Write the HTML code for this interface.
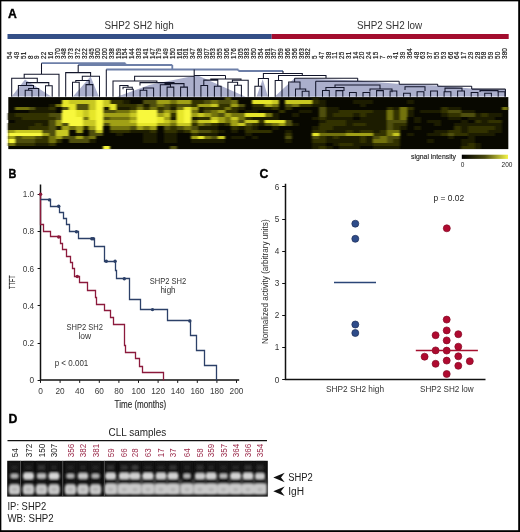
<!DOCTYPE html><html><head><meta charset="utf-8"><style>html,body{margin:0;padding:0;background:#fff;} svg{display:block;will-change:transform;} text{font-family:"Liberation Sans", sans-serif;}</style></head><body>
<svg width="520" height="532" viewBox="0 0 520 532">
<defs><filter id="bl" x="-5%" y="-5%" width="110%" height="110%"><feGaussianBlur stdDeviation="1.1 0.55"/></filter><filter id="bl2" x="-20%" y="-50%" width="140%" height="200%"><feGaussianBlur stdDeviation="0.9"/></filter><linearGradient id="gscale" x1="0" x2="1" y1="0" y2="0"><stop offset="0" stop-color="#000"/><stop offset="0.5" stop-color="#4a4a10"/><stop offset="1" stop-color="#f4f448"/></linearGradient></defs>
<rect x="0" y="0" width="520" height="532" fill="#000"/>
<rect x="1.35" y="1.35" width="516.85" height="528.85" fill="#fff"/>
<text x="8.0" y="17.7" font-size="12.2" fill="#000" text-anchor="start" font-weight="bold" stroke="#000" stroke-width="0.35">A</text>
<text x="104.5" y="29" font-size="10.6" fill="#333" text-anchor="start" font-weight="normal" textLength="69.2" lengthAdjust="spacingAndGlyphs" >SHP2 SH2 high</text>
<text x="357.0" y="29" font-size="10.6" fill="#333" text-anchor="start" font-weight="normal" textLength="65.2" lengthAdjust="spacingAndGlyphs" >SHP2 SH2 low</text>
<rect x="7.5" y="34" width="264.2" height="5" fill="#344f87"/>
<rect x="271.7" y="34" width="237" height="5" fill="#a30d2e"/>
<text transform="translate(12.30,58.9) rotate(-90)" font-size="6.5" fill="#1a1a1a" stroke="#1a1a1a" stroke-width="0.18" textLength="7.10" lengthAdjust="spacingAndGlyphs">54</text>
<text transform="translate(19.07,58.9) rotate(-90)" font-size="6.5" fill="#1a1a1a" stroke="#1a1a1a" stroke-width="0.18" textLength="7.10" lengthAdjust="spacingAndGlyphs">49</text>
<text transform="translate(25.85,58.9) rotate(-90)" font-size="6.5" fill="#1a1a1a" stroke="#1a1a1a" stroke-width="0.18" textLength="7.10" lengthAdjust="spacingAndGlyphs">51</text>
<text transform="translate(32.62,58.9) rotate(-90)" font-size="6.5" fill="#1a1a1a" stroke="#1a1a1a" stroke-width="0.18" textLength="3.55" lengthAdjust="spacingAndGlyphs">8</text>
<text transform="translate(39.39,58.9) rotate(-90)" font-size="6.5" fill="#1a1a1a" stroke="#1a1a1a" stroke-width="0.18" textLength="3.55" lengthAdjust="spacingAndGlyphs">9</text>
<text transform="translate(46.16,58.9) rotate(-90)" font-size="6.5" fill="#1a1a1a" stroke="#1a1a1a" stroke-width="0.18" textLength="7.10" lengthAdjust="spacingAndGlyphs">22</text>
<text transform="translate(52.94,58.9) rotate(-90)" font-size="6.5" fill="#1a1a1a" stroke="#1a1a1a" stroke-width="0.18" textLength="7.10" lengthAdjust="spacingAndGlyphs">16</text>
<text transform="translate(59.71,58.9) rotate(-90)" font-size="6.5" fill="#1a1a1a" stroke="#1a1a1a" stroke-width="0.18" textLength="10.65" lengthAdjust="spacingAndGlyphs">370</text>
<text transform="translate(66.48,58.9) rotate(-90)" font-size="6.5" fill="#1a1a1a" stroke="#1a1a1a" stroke-width="0.18" textLength="10.65" lengthAdjust="spacingAndGlyphs">348</text>
<text transform="translate(73.25,58.9) rotate(-90)" font-size="6.5" fill="#1a1a1a" stroke="#1a1a1a" stroke-width="0.18" textLength="10.65" lengthAdjust="spacingAndGlyphs">373</text>
<text transform="translate(80.03,58.9) rotate(-90)" font-size="6.5" fill="#1a1a1a" stroke="#1a1a1a" stroke-width="0.18" textLength="10.65" lengthAdjust="spacingAndGlyphs">372</text>
<text transform="translate(86.80,58.9) rotate(-90)" font-size="6.5" fill="#1a1a1a" stroke="#1a1a1a" stroke-width="0.18" textLength="10.65" lengthAdjust="spacingAndGlyphs">322</text>
<text transform="translate(93.57,58.9) rotate(-90)" font-size="6.5" fill="#1a1a1a" stroke="#1a1a1a" stroke-width="0.18" textLength="10.65" lengthAdjust="spacingAndGlyphs">345</text>
<text transform="translate(100.34,58.9) rotate(-90)" font-size="6.5" fill="#1a1a1a" stroke="#1a1a1a" stroke-width="0.18" textLength="10.65" lengthAdjust="spacingAndGlyphs">300</text>
<text transform="translate(107.12,58.9) rotate(-90)" font-size="6.5" fill="#1a1a1a" stroke="#1a1a1a" stroke-width="0.18" textLength="10.65" lengthAdjust="spacingAndGlyphs">200</text>
<text transform="translate(113.89,58.9) rotate(-90)" font-size="6.5" fill="#1a1a1a" stroke="#1a1a1a" stroke-width="0.18" textLength="10.65" lengthAdjust="spacingAndGlyphs">338</text>
<text transform="translate(120.66,58.9) rotate(-90)" font-size="6.5" fill="#1a1a1a" stroke="#1a1a1a" stroke-width="0.18" textLength="10.65" lengthAdjust="spacingAndGlyphs">159</text>
<text transform="translate(127.43,58.9) rotate(-90)" font-size="6.5" fill="#1a1a1a" stroke="#1a1a1a" stroke-width="0.18" textLength="10.65" lengthAdjust="spacingAndGlyphs">154</text>
<text transform="translate(134.21,58.9) rotate(-90)" font-size="6.5" fill="#1a1a1a" stroke="#1a1a1a" stroke-width="0.18" textLength="10.65" lengthAdjust="spacingAndGlyphs">144</text>
<text transform="translate(140.98,58.9) rotate(-90)" font-size="6.5" fill="#1a1a1a" stroke="#1a1a1a" stroke-width="0.18" textLength="10.65" lengthAdjust="spacingAndGlyphs">303</text>
<text transform="translate(147.75,58.9) rotate(-90)" font-size="6.5" fill="#1a1a1a" stroke="#1a1a1a" stroke-width="0.18" textLength="10.65" lengthAdjust="spacingAndGlyphs">141</text>
<text transform="translate(154.52,58.9) rotate(-90)" font-size="6.5" fill="#1a1a1a" stroke="#1a1a1a" stroke-width="0.18" textLength="10.65" lengthAdjust="spacingAndGlyphs">147</text>
<text transform="translate(161.30,58.9) rotate(-90)" font-size="6.5" fill="#1a1a1a" stroke="#1a1a1a" stroke-width="0.18" textLength="10.65" lengthAdjust="spacingAndGlyphs">179</text>
<text transform="translate(168.07,58.9) rotate(-90)" font-size="6.5" fill="#1a1a1a" stroke="#1a1a1a" stroke-width="0.18" textLength="10.65" lengthAdjust="spacingAndGlyphs">149</text>
<text transform="translate(174.84,58.9) rotate(-90)" font-size="6.5" fill="#1a1a1a" stroke="#1a1a1a" stroke-width="0.18" textLength="10.65" lengthAdjust="spacingAndGlyphs">150</text>
<text transform="translate(181.62,58.9) rotate(-90)" font-size="6.5" fill="#1a1a1a" stroke="#1a1a1a" stroke-width="0.18" textLength="10.65" lengthAdjust="spacingAndGlyphs">161</text>
<text transform="translate(188.39,58.9) rotate(-90)" font-size="6.5" fill="#1a1a1a" stroke="#1a1a1a" stroke-width="0.18" textLength="10.65" lengthAdjust="spacingAndGlyphs">301</text>
<text transform="translate(195.16,58.9) rotate(-90)" font-size="6.5" fill="#1a1a1a" stroke="#1a1a1a" stroke-width="0.18" textLength="10.65" lengthAdjust="spacingAndGlyphs">347</text>
<text transform="translate(201.93,58.9) rotate(-90)" font-size="6.5" fill="#1a1a1a" stroke="#1a1a1a" stroke-width="0.18" textLength="10.65" lengthAdjust="spacingAndGlyphs">308</text>
<text transform="translate(208.71,58.9) rotate(-90)" font-size="6.5" fill="#1a1a1a" stroke="#1a1a1a" stroke-width="0.18" textLength="10.65" lengthAdjust="spacingAndGlyphs">307</text>
<text transform="translate(215.48,58.9) rotate(-90)" font-size="6.5" fill="#1a1a1a" stroke="#1a1a1a" stroke-width="0.18" textLength="10.65" lengthAdjust="spacingAndGlyphs">353</text>
<text transform="translate(222.25,58.9) rotate(-90)" font-size="6.5" fill="#1a1a1a" stroke="#1a1a1a" stroke-width="0.18" textLength="10.65" lengthAdjust="spacingAndGlyphs">355</text>
<text transform="translate(229.02,58.9) rotate(-90)" font-size="6.5" fill="#1a1a1a" stroke="#1a1a1a" stroke-width="0.18" textLength="10.65" lengthAdjust="spacingAndGlyphs">306</text>
<text transform="translate(235.80,58.9) rotate(-90)" font-size="6.5" fill="#1a1a1a" stroke="#1a1a1a" stroke-width="0.18" textLength="10.65" lengthAdjust="spacingAndGlyphs">176</text>
<text transform="translate(242.57,58.9) rotate(-90)" font-size="6.5" fill="#1a1a1a" stroke="#1a1a1a" stroke-width="0.18" textLength="10.65" lengthAdjust="spacingAndGlyphs">305</text>
<text transform="translate(249.34,58.9) rotate(-90)" font-size="6.5" fill="#1a1a1a" stroke="#1a1a1a" stroke-width="0.18" textLength="10.65" lengthAdjust="spacingAndGlyphs">383</text>
<text transform="translate(256.11,58.9) rotate(-90)" font-size="6.5" fill="#1a1a1a" stroke="#1a1a1a" stroke-width="0.18" textLength="10.65" lengthAdjust="spacingAndGlyphs">350</text>
<text transform="translate(262.89,58.9) rotate(-90)" font-size="6.5" fill="#1a1a1a" stroke="#1a1a1a" stroke-width="0.18" textLength="10.65" lengthAdjust="spacingAndGlyphs">354</text>
<text transform="translate(269.66,58.9) rotate(-90)" font-size="6.5" fill="#1a1a1a" stroke="#1a1a1a" stroke-width="0.18" textLength="10.65" lengthAdjust="spacingAndGlyphs">381</text>
<text transform="translate(276.43,58.9) rotate(-90)" font-size="6.5" fill="#1a1a1a" stroke="#1a1a1a" stroke-width="0.18" textLength="10.65" lengthAdjust="spacingAndGlyphs">357</text>
<text transform="translate(283.20,58.9) rotate(-90)" font-size="6.5" fill="#1a1a1a" stroke="#1a1a1a" stroke-width="0.18" textLength="10.65" lengthAdjust="spacingAndGlyphs">359</text>
<text transform="translate(289.98,58.9) rotate(-90)" font-size="6.5" fill="#1a1a1a" stroke="#1a1a1a" stroke-width="0.18" textLength="10.65" lengthAdjust="spacingAndGlyphs">366</text>
<text transform="translate(296.75,58.9) rotate(-90)" font-size="6.5" fill="#1a1a1a" stroke="#1a1a1a" stroke-width="0.18" textLength="10.65" lengthAdjust="spacingAndGlyphs">356</text>
<text transform="translate(303.52,58.9) rotate(-90)" font-size="6.5" fill="#1a1a1a" stroke="#1a1a1a" stroke-width="0.18" textLength="10.65" lengthAdjust="spacingAndGlyphs">363</text>
<text transform="translate(310.29,58.9) rotate(-90)" font-size="6.5" fill="#1a1a1a" stroke="#1a1a1a" stroke-width="0.18" textLength="10.65" lengthAdjust="spacingAndGlyphs">382</text>
<text transform="translate(317.07,58.9) rotate(-90)" font-size="6.5" fill="#1a1a1a" stroke="#1a1a1a" stroke-width="0.18" textLength="3.55" lengthAdjust="spacingAndGlyphs">5</text>
<text transform="translate(323.84,58.9) rotate(-90)" font-size="6.5" fill="#1a1a1a" stroke="#1a1a1a" stroke-width="0.18" textLength="7.10" lengthAdjust="spacingAndGlyphs">47</text>
<text transform="translate(330.61,58.9) rotate(-90)" font-size="6.5" fill="#1a1a1a" stroke="#1a1a1a" stroke-width="0.18" textLength="7.10" lengthAdjust="spacingAndGlyphs">38</text>
<text transform="translate(337.38,58.9) rotate(-90)" font-size="6.5" fill="#1a1a1a" stroke="#1a1a1a" stroke-width="0.18" textLength="7.10" lengthAdjust="spacingAndGlyphs">11</text>
<text transform="translate(344.16,58.9) rotate(-90)" font-size="6.5" fill="#1a1a1a" stroke="#1a1a1a" stroke-width="0.18" textLength="7.10" lengthAdjust="spacingAndGlyphs">25</text>
<text transform="translate(350.93,58.9) rotate(-90)" font-size="6.5" fill="#1a1a1a" stroke="#1a1a1a" stroke-width="0.18" textLength="7.10" lengthAdjust="spacingAndGlyphs">31</text>
<text transform="translate(357.70,58.9) rotate(-90)" font-size="6.5" fill="#1a1a1a" stroke="#1a1a1a" stroke-width="0.18" textLength="7.10" lengthAdjust="spacingAndGlyphs">14</text>
<text transform="translate(364.48,58.9) rotate(-90)" font-size="6.5" fill="#1a1a1a" stroke="#1a1a1a" stroke-width="0.18" textLength="7.10" lengthAdjust="spacingAndGlyphs">20</text>
<text transform="translate(371.25,58.9) rotate(-90)" font-size="6.5" fill="#1a1a1a" stroke="#1a1a1a" stroke-width="0.18" textLength="7.10" lengthAdjust="spacingAndGlyphs">24</text>
<text transform="translate(378.02,58.9) rotate(-90)" font-size="6.5" fill="#1a1a1a" stroke="#1a1a1a" stroke-width="0.18" textLength="7.10" lengthAdjust="spacingAndGlyphs">15</text>
<text transform="translate(384.79,58.9) rotate(-90)" font-size="6.5" fill="#1a1a1a" stroke="#1a1a1a" stroke-width="0.18" textLength="3.55" lengthAdjust="spacingAndGlyphs">7</text>
<text transform="translate(391.57,58.9) rotate(-90)" font-size="6.5" fill="#1a1a1a" stroke="#1a1a1a" stroke-width="0.18" textLength="3.55" lengthAdjust="spacingAndGlyphs">3</text>
<text transform="translate(398.34,58.9) rotate(-90)" font-size="6.5" fill="#1a1a1a" stroke="#1a1a1a" stroke-width="0.18" textLength="7.10" lengthAdjust="spacingAndGlyphs">41</text>
<text transform="translate(405.11,58.9) rotate(-90)" font-size="6.5" fill="#1a1a1a" stroke="#1a1a1a" stroke-width="0.18" textLength="7.10" lengthAdjust="spacingAndGlyphs">39</text>
<text transform="translate(411.88,58.9) rotate(-90)" font-size="6.5" fill="#1a1a1a" stroke="#1a1a1a" stroke-width="0.18" textLength="10.65" lengthAdjust="spacingAndGlyphs">364</text>
<text transform="translate(418.66,58.9) rotate(-90)" font-size="6.5" fill="#1a1a1a" stroke="#1a1a1a" stroke-width="0.18" textLength="7.10" lengthAdjust="spacingAndGlyphs">48</text>
<text transform="translate(425.43,58.9) rotate(-90)" font-size="6.5" fill="#1a1a1a" stroke="#1a1a1a" stroke-width="0.18" textLength="7.10" lengthAdjust="spacingAndGlyphs">63</text>
<text transform="translate(432.20,58.9) rotate(-90)" font-size="6.5" fill="#1a1a1a" stroke="#1a1a1a" stroke-width="0.18" textLength="7.10" lengthAdjust="spacingAndGlyphs">37</text>
<text transform="translate(438.97,58.9) rotate(-90)" font-size="6.5" fill="#1a1a1a" stroke="#1a1a1a" stroke-width="0.18" textLength="7.10" lengthAdjust="spacingAndGlyphs">55</text>
<text transform="translate(445.75,58.9) rotate(-90)" font-size="6.5" fill="#1a1a1a" stroke="#1a1a1a" stroke-width="0.18" textLength="7.10" lengthAdjust="spacingAndGlyphs">53</text>
<text transform="translate(452.52,58.9) rotate(-90)" font-size="6.5" fill="#1a1a1a" stroke="#1a1a1a" stroke-width="0.18" textLength="7.10" lengthAdjust="spacingAndGlyphs">66</text>
<text transform="translate(459.29,58.9) rotate(-90)" font-size="6.5" fill="#1a1a1a" stroke="#1a1a1a" stroke-width="0.18" textLength="7.10" lengthAdjust="spacingAndGlyphs">64</text>
<text transform="translate(466.06,58.9) rotate(-90)" font-size="6.5" fill="#1a1a1a" stroke="#1a1a1a" stroke-width="0.18" textLength="7.10" lengthAdjust="spacingAndGlyphs">17</text>
<text transform="translate(472.84,58.9) rotate(-90)" font-size="6.5" fill="#1a1a1a" stroke="#1a1a1a" stroke-width="0.18" textLength="7.10" lengthAdjust="spacingAndGlyphs">29</text>
<text transform="translate(479.61,58.9) rotate(-90)" font-size="6.5" fill="#1a1a1a" stroke="#1a1a1a" stroke-width="0.18" textLength="7.10" lengthAdjust="spacingAndGlyphs">28</text>
<text transform="translate(486.38,58.9) rotate(-90)" font-size="6.5" fill="#1a1a1a" stroke="#1a1a1a" stroke-width="0.18" textLength="7.10" lengthAdjust="spacingAndGlyphs">58</text>
<text transform="translate(493.15,58.9) rotate(-90)" font-size="6.5" fill="#1a1a1a" stroke="#1a1a1a" stroke-width="0.18" textLength="7.10" lengthAdjust="spacingAndGlyphs">59</text>
<text transform="translate(499.93,58.9) rotate(-90)" font-size="6.5" fill="#1a1a1a" stroke="#1a1a1a" stroke-width="0.18" textLength="7.10" lengthAdjust="spacingAndGlyphs">50</text>
<text transform="translate(506.70,58.9) rotate(-90)" font-size="6.5" fill="#1a1a1a" stroke="#1a1a1a" stroke-width="0.18" textLength="10.65" lengthAdjust="spacingAndGlyphs">380</text>
<polygon points="11.7,96.5 25,79.5 51.2,96.5" fill="#abafcc"/>
<polygon points="73,96.5 90.6,76.5 98.8,96.5" fill="#abafcc"/>
<polygon points="117,96.8 150,84.8 194.5,75.8 199,76.0 245.5,96.8" fill="#abafcc"/>
<polygon points="256.6,96.5 262.7,79.3 267.9,96.5" fill="#abafcc"/>
<polygon points="274.5,96.8 294.5,78.2 357.5,80.5 400,84 437,85.5 471,88.5 506,90 506,96.5" fill="#abafcc"/>
<path d="M41.5 63.2H125.4M125.4 63.2V65.0M78.2 65.0H172.3M172.3 65.0V69.5M106.3 69.5H238.4M238.4 69.5V71.0M238.4 71.0H283.0" stroke="#6d7fa8" stroke-width="1.8" fill="none"/>
<path d="M41.5 63.2V74.2M78.2 65.0V72.6M24.2 78.3V74.2H59.0V96.8M11.7 96.8V78.3H37.3V82.6M26.5 85.4V82.6H48.8V85.7M45.5 96.8V85.7H52.2V96.8M18.4 96.8V85.4H33.5V88.5M28.6 90.2V88.5H38.7V96.8M25.2 96.8V90.2H32.0V96.8M65.7 96.8V72.6H90.6V76.2M82.3 80.4V76.2H99.5V96.8M75.8 82.3V80.4H89.2V84.6M72.5 96.8V82.3H79.2V96.8M86.0 96.8V84.6H92.8V96.8M106.3 69.5V96.8M134.6 81.0V76.3H194.2V76.3M194.2 69.5V96.8M113.0 96.8V81.0H156.9V82.6M140.0 85.4V82.6H174.0V83.6M119.8 96.8V85.4H128.0V87.2M126.5 96.8V89.3H133.3V96.8M123.0 89.3V87.2H132.3V89.8M140.1 96.8V90.3H146.8V96.8M143.4 90.3V88.0H153.6V96.8M160.3 96.8V84.8H170.5V87.1M167.1 96.8V87.1H173.8V96.8M180.6 96.8V87.1H187.4V96.8M165.0 84.8V83.6H184.0V87.1M210.8 80.1V78.9H241.0V80.3M232.4 82.3V80.3H248.2V96.8M227.9 96.8V82.3H237.6V85.2M234.7 96.8V85.2H241.4V96.8M200.9 96.8V85.4H207.6V96.8M203.8 85.2V80.1H217.8V86.1M214.4 96.8V86.2H221.1V96.8M225.5 75.5V78.9M194.2 75.5H225.5M258.4 86.2V78.4H268.4V96.8M254.9 96.8V86.2H261.7V96.8M263.4 78.4V73.4H302.3V75.7M283.0 71.0V73.4M278.5 80.5V75.5H326.0V78.2M275.2 96.8V80.5H282.0V96.8M294.6 78.2H357.7M294.6 78.2V82.0M357.7 78.2V81.2M288.7 96.8V82.0H300.0V89.0M295.5 96.8V89.0H305.7V91.2M302.2 96.8V91.2H309.0V96.8M315.7 81.2H399.2M315.7 81.2V96.8M399.2 81.2V84.3M399.2 84.3H437.7M437.7 84.3V86.2M437.7 86.2H471.7M471.7 86.2V89.1M471.7 89.1H505.4M505.4 89.1V96.8M335.0 87.4V85.0H380.0V89.0M325.9 90.4V87.4H344.0V91.0M322.5 96.8V90.4H329.3V96.8M370.0 91.5V89.0H392.0V92.2M405.0 90.0V86.8H425.0V91.0M445.0 91.5V88.1H462.0V90.8M480.0 92.0V90.6H498.0V92.4M336.0 96.8V90.6H342.8V96.8M349.5 96.8V92.5H356.3V96.8M363.0 96.8V92.5H369.8V96.8M376.6 96.8V90.6H383.3V96.8M390.1 96.8V91.0H396.8V96.8M403.6 96.8V93.2H410.3V96.8M417.1 96.8V91.8H423.9V96.8M430.6 96.8V91.0H437.4V96.8M444.1 96.8V91.8H450.9V96.8M457.6 96.8V91.0H464.4V96.8M471.2 96.8V92.5H477.9V96.8M484.7 96.8V93.2H491.4V96.8M498.2 96.8V91.8H504.9V96.8" stroke="#12152a" stroke-width="1.05" fill="none"/>
<rect x="8.3" y="97.1" width="500.02" height="52.00" fill="#080800"/>
<g filter="url(#bl)" shape-rendering="crispEdges">
<rect x="8.30" y="113.35" width="6.81" height="3.30" fill="#1c1c02"/>
<rect x="8.30" y="116.60" width="6.81" height="3.30" fill="#1c1c02"/>
<rect x="8.30" y="123.10" width="6.81" height="3.30" fill="#1c1c02"/>
<rect x="8.30" y="126.35" width="6.81" height="3.30" fill="#1c1c02"/>
<rect x="8.30" y="129.60" width="6.81" height="3.30" fill="#a0a018"/>
<rect x="8.30" y="132.85" width="6.81" height="3.30" fill="#f8f83c"/>
<rect x="8.30" y="136.10" width="6.81" height="3.30" fill="#a0a018"/>
<rect x="8.30" y="139.35" width="6.81" height="3.30" fill="#f8f83c"/>
<rect x="8.30" y="142.60" width="6.81" height="3.30" fill="#737310"/>
<rect x="15.06" y="106.85" width="6.81" height="3.30" fill="#737310"/>
<rect x="15.06" y="113.35" width="6.81" height="3.30" fill="#303006"/>
<rect x="15.06" y="116.60" width="6.81" height="3.30" fill="#1c1c02"/>
<rect x="15.06" y="119.85" width="6.81" height="3.30" fill="#1c1c02"/>
<rect x="15.06" y="123.10" width="6.81" height="3.30" fill="#1c1c02"/>
<rect x="15.06" y="126.35" width="6.81" height="3.30" fill="#1c1c02"/>
<rect x="15.06" y="129.60" width="6.81" height="3.30" fill="#c8c822"/>
<rect x="15.06" y="132.85" width="6.81" height="3.30" fill="#f8f83c"/>
<rect x="15.06" y="136.10" width="6.81" height="3.30" fill="#50500a"/>
<rect x="15.06" y="139.35" width="6.81" height="3.30" fill="#50500a"/>
<rect x="15.06" y="142.60" width="6.81" height="3.30" fill="#303006"/>
<rect x="21.81" y="106.85" width="6.81" height="3.30" fill="#737310"/>
<rect x="21.81" y="113.35" width="6.81" height="3.30" fill="#303006"/>
<rect x="21.81" y="116.60" width="6.81" height="3.30" fill="#303006"/>
<rect x="21.81" y="119.85" width="6.81" height="3.30" fill="#1c1c02"/>
<rect x="21.81" y="123.10" width="6.81" height="3.30" fill="#1c1c02"/>
<rect x="21.81" y="126.35" width="6.81" height="3.30" fill="#1c1c02"/>
<rect x="21.81" y="129.60" width="6.81" height="3.30" fill="#c8c822"/>
<rect x="21.81" y="132.85" width="6.81" height="3.30" fill="#f8f83c"/>
<rect x="21.81" y="136.10" width="6.81" height="3.30" fill="#737310"/>
<rect x="21.81" y="139.35" width="6.81" height="3.30" fill="#50500a"/>
<rect x="21.81" y="142.60" width="6.81" height="3.30" fill="#303006"/>
<rect x="28.57" y="106.85" width="6.81" height="3.30" fill="#50500a"/>
<rect x="28.57" y="110.10" width="6.81" height="3.30" fill="#1c1c02"/>
<rect x="28.57" y="113.35" width="6.81" height="3.30" fill="#303006"/>
<rect x="28.57" y="116.60" width="6.81" height="3.30" fill="#303006"/>
<rect x="28.57" y="119.85" width="6.81" height="3.30" fill="#1c1c02"/>
<rect x="28.57" y="123.10" width="6.81" height="3.30" fill="#1c1c02"/>
<rect x="28.57" y="126.35" width="6.81" height="3.30" fill="#303006"/>
<rect x="28.57" y="129.60" width="6.81" height="3.30" fill="#c8c822"/>
<rect x="28.57" y="132.85" width="6.81" height="3.30" fill="#f8f83c"/>
<rect x="28.57" y="136.10" width="6.81" height="3.30" fill="#737310"/>
<rect x="28.57" y="139.35" width="6.81" height="3.30" fill="#50500a"/>
<rect x="28.57" y="142.60" width="6.81" height="3.30" fill="#303006"/>
<rect x="35.33" y="106.85" width="6.81" height="3.30" fill="#1c1c02"/>
<rect x="35.33" y="110.10" width="6.81" height="3.30" fill="#1c1c02"/>
<rect x="35.33" y="113.35" width="6.81" height="3.30" fill="#303006"/>
<rect x="35.33" y="116.60" width="6.81" height="3.30" fill="#303006"/>
<rect x="35.33" y="119.85" width="6.81" height="3.30" fill="#1c1c02"/>
<rect x="35.33" y="123.10" width="6.81" height="3.30" fill="#303006"/>
<rect x="35.33" y="126.35" width="6.81" height="3.30" fill="#303006"/>
<rect x="35.33" y="129.60" width="6.81" height="3.30" fill="#c8c822"/>
<rect x="35.33" y="132.85" width="6.81" height="3.30" fill="#f8f83c"/>
<rect x="35.33" y="136.10" width="6.81" height="3.30" fill="#50500a"/>
<rect x="35.33" y="139.35" width="6.81" height="3.30" fill="#303006"/>
<rect x="35.33" y="142.60" width="6.81" height="3.30" fill="#1c1c02"/>
<rect x="42.08" y="106.85" width="6.81" height="3.30" fill="#1c1c02"/>
<rect x="42.08" y="110.10" width="6.81" height="3.30" fill="#1c1c02"/>
<rect x="42.08" y="113.35" width="6.81" height="3.30" fill="#303006"/>
<rect x="42.08" y="116.60" width="6.81" height="3.30" fill="#303006"/>
<rect x="42.08" y="119.85" width="6.81" height="3.30" fill="#1c1c02"/>
<rect x="42.08" y="123.10" width="6.81" height="3.30" fill="#1c1c02"/>
<rect x="42.08" y="126.35" width="6.81" height="3.30" fill="#303006"/>
<rect x="42.08" y="129.60" width="6.81" height="3.30" fill="#50500a"/>
<rect x="42.08" y="132.85" width="6.81" height="3.30" fill="#a0a018"/>
<rect x="42.08" y="136.10" width="6.81" height="3.30" fill="#303006"/>
<rect x="42.08" y="139.35" width="6.81" height="3.30" fill="#303006"/>
<rect x="42.08" y="142.60" width="6.81" height="3.30" fill="#1c1c02"/>
<rect x="48.84" y="103.60" width="6.81" height="3.30" fill="#1c1c02"/>
<rect x="48.84" y="106.85" width="6.81" height="3.30" fill="#303006"/>
<rect x="48.84" y="110.10" width="6.81" height="3.30" fill="#1c1c02"/>
<rect x="48.84" y="113.35" width="6.81" height="3.30" fill="#50500a"/>
<rect x="48.84" y="116.60" width="6.81" height="3.30" fill="#303006"/>
<rect x="48.84" y="119.85" width="6.81" height="3.30" fill="#50500a"/>
<rect x="48.84" y="123.10" width="6.81" height="3.30" fill="#50500a"/>
<rect x="48.84" y="126.35" width="6.81" height="3.30" fill="#50500a"/>
<rect x="48.84" y="129.60" width="6.81" height="3.30" fill="#50500a"/>
<rect x="48.84" y="132.85" width="6.81" height="3.30" fill="#50500a"/>
<rect x="48.84" y="136.10" width="6.81" height="3.30" fill="#737310"/>
<rect x="48.84" y="139.35" width="6.81" height="3.30" fill="#737310"/>
<rect x="48.84" y="142.60" width="6.81" height="3.30" fill="#303006"/>
<rect x="55.60" y="103.60" width="6.81" height="3.30" fill="#737310"/>
<rect x="55.60" y="113.35" width="6.81" height="3.30" fill="#50500a"/>
<rect x="55.60" y="116.60" width="6.81" height="3.30" fill="#50500a"/>
<rect x="55.60" y="119.85" width="6.81" height="3.30" fill="#a0a018"/>
<rect x="55.60" y="123.10" width="6.81" height="3.30" fill="#a0a018"/>
<rect x="55.60" y="126.35" width="6.81" height="3.30" fill="#1c1c02"/>
<rect x="55.60" y="129.60" width="6.81" height="3.30" fill="#c8c822"/>
<rect x="55.60" y="132.85" width="6.81" height="3.30" fill="#c8c822"/>
<rect x="55.60" y="136.10" width="6.81" height="3.30" fill="#a0a018"/>
<rect x="55.60" y="139.35" width="6.81" height="3.30" fill="#303006"/>
<rect x="62.36" y="100.35" width="6.81" height="3.30" fill="#e6e62c"/>
<rect x="62.36" y="103.60" width="6.81" height="3.30" fill="#e6e62c"/>
<rect x="62.36" y="106.85" width="6.81" height="3.30" fill="#50500a"/>
<rect x="62.36" y="110.10" width="6.81" height="3.30" fill="#f8f83c"/>
<rect x="62.36" y="113.35" width="6.81" height="3.30" fill="#f8f83c"/>
<rect x="62.36" y="116.60" width="6.81" height="3.30" fill="#f8f83c"/>
<rect x="62.36" y="119.85" width="6.81" height="3.30" fill="#f8f83c"/>
<rect x="62.36" y="123.10" width="6.81" height="3.30" fill="#50500a"/>
<rect x="62.36" y="126.35" width="6.81" height="3.30" fill="#a0a018"/>
<rect x="62.36" y="129.60" width="6.81" height="3.30" fill="#c8c822"/>
<rect x="62.36" y="132.85" width="6.81" height="3.30" fill="#c8c822"/>
<rect x="62.36" y="136.10" width="6.81" height="3.30" fill="#50500a"/>
<rect x="69.11" y="100.35" width="6.81" height="3.30" fill="#c8c822"/>
<rect x="69.11" y="103.60" width="6.81" height="3.30" fill="#e6e62c"/>
<rect x="69.11" y="106.85" width="6.81" height="3.30" fill="#e6e62c"/>
<rect x="69.11" y="110.10" width="6.81" height="3.30" fill="#f8f83c"/>
<rect x="69.11" y="113.35" width="6.81" height="3.30" fill="#f8f83c"/>
<rect x="69.11" y="116.60" width="6.81" height="3.30" fill="#f8f83c"/>
<rect x="69.11" y="119.85" width="6.81" height="3.30" fill="#f8f83c"/>
<rect x="69.11" y="123.10" width="6.81" height="3.30" fill="#f8f83c"/>
<rect x="69.11" y="126.35" width="6.81" height="3.30" fill="#737310"/>
<rect x="69.11" y="136.10" width="6.81" height="3.30" fill="#50500a"/>
<rect x="69.11" y="139.35" width="6.81" height="3.30" fill="#50500a"/>
<rect x="75.87" y="100.35" width="6.81" height="3.30" fill="#c8c822"/>
<rect x="75.87" y="103.60" width="6.81" height="3.30" fill="#50500a"/>
<rect x="75.87" y="106.85" width="6.81" height="3.30" fill="#50500a"/>
<rect x="75.87" y="110.10" width="6.81" height="3.30" fill="#e6e62c"/>
<rect x="75.87" y="113.35" width="6.81" height="3.30" fill="#e6e62c"/>
<rect x="75.87" y="116.60" width="6.81" height="3.30" fill="#f8f83c"/>
<rect x="75.87" y="119.85" width="6.81" height="3.30" fill="#f8f83c"/>
<rect x="75.87" y="123.10" width="6.81" height="3.30" fill="#f8f83c"/>
<rect x="75.87" y="126.35" width="6.81" height="3.30" fill="#a0a018"/>
<rect x="75.87" y="129.60" width="6.81" height="3.30" fill="#a0a018"/>
<rect x="75.87" y="132.85" width="6.81" height="3.30" fill="#1c1c02"/>
<rect x="75.87" y="136.10" width="6.81" height="3.30" fill="#a0a018"/>
<rect x="75.87" y="139.35" width="6.81" height="3.30" fill="#50500a"/>
<rect x="82.63" y="100.35" width="6.81" height="3.30" fill="#c8c822"/>
<rect x="82.63" y="103.60" width="6.81" height="3.30" fill="#50500a"/>
<rect x="82.63" y="106.85" width="6.81" height="3.30" fill="#50500a"/>
<rect x="82.63" y="110.10" width="6.81" height="3.30" fill="#c8c822"/>
<rect x="82.63" y="113.35" width="6.81" height="3.30" fill="#c8c822"/>
<rect x="82.63" y="116.60" width="6.81" height="3.30" fill="#737310"/>
<rect x="82.63" y="119.85" width="6.81" height="3.30" fill="#c8c822"/>
<rect x="82.63" y="123.10" width="6.81" height="3.30" fill="#c8c822"/>
<rect x="82.63" y="126.35" width="6.81" height="3.30" fill="#303006"/>
<rect x="82.63" y="136.10" width="6.81" height="3.30" fill="#50500a"/>
<rect x="82.63" y="139.35" width="6.81" height="3.30" fill="#50500a"/>
<rect x="89.38" y="100.35" width="6.81" height="3.30" fill="#c8c822"/>
<rect x="89.38" y="103.60" width="6.81" height="3.30" fill="#c8c822"/>
<rect x="89.38" y="106.85" width="6.81" height="3.30" fill="#c8c822"/>
<rect x="89.38" y="110.10" width="6.81" height="3.30" fill="#e6e62c"/>
<rect x="89.38" y="113.35" width="6.81" height="3.30" fill="#e6e62c"/>
<rect x="89.38" y="116.60" width="6.81" height="3.30" fill="#e6e62c"/>
<rect x="89.38" y="119.85" width="6.81" height="3.30" fill="#c8c822"/>
<rect x="89.38" y="123.10" width="6.81" height="3.30" fill="#c8c822"/>
<rect x="89.38" y="126.35" width="6.81" height="3.30" fill="#a0a018"/>
<rect x="89.38" y="129.60" width="6.81" height="3.30" fill="#50500a"/>
<rect x="89.38" y="132.85" width="6.81" height="3.30" fill="#50500a"/>
<rect x="89.38" y="136.10" width="6.81" height="3.30" fill="#737310"/>
<rect x="89.38" y="139.35" width="6.81" height="3.30" fill="#1c1c02"/>
<rect x="96.14" y="100.35" width="6.81" height="3.30" fill="#f8f83c"/>
<rect x="96.14" y="103.60" width="6.81" height="3.30" fill="#f8f83c"/>
<rect x="96.14" y="106.85" width="6.81" height="3.30" fill="#f8f83c"/>
<rect x="96.14" y="110.10" width="6.81" height="3.30" fill="#f8f83c"/>
<rect x="96.14" y="113.35" width="6.81" height="3.30" fill="#f8f83c"/>
<rect x="96.14" y="116.60" width="6.81" height="3.30" fill="#f8f83c"/>
<rect x="96.14" y="119.85" width="6.81" height="3.30" fill="#f8f83c"/>
<rect x="96.14" y="123.10" width="6.81" height="3.30" fill="#f8f83c"/>
<rect x="96.14" y="126.35" width="6.81" height="3.30" fill="#f8f83c"/>
<rect x="96.14" y="129.60" width="6.81" height="3.30" fill="#c8c822"/>
<rect x="96.14" y="132.85" width="6.81" height="3.30" fill="#50500a"/>
<rect x="102.90" y="100.35" width="6.81" height="3.30" fill="#c8c822"/>
<rect x="102.90" y="103.60" width="6.81" height="3.30" fill="#c8c822"/>
<rect x="102.90" y="106.85" width="6.81" height="3.30" fill="#1c1c02"/>
<rect x="102.90" y="110.10" width="6.81" height="3.30" fill="#50500a"/>
<rect x="102.90" y="113.35" width="6.81" height="3.30" fill="#a0a018"/>
<rect x="102.90" y="116.60" width="6.81" height="3.30" fill="#50500a"/>
<rect x="102.90" y="119.85" width="6.81" height="3.30" fill="#a0a018"/>
<rect x="102.90" y="123.10" width="6.81" height="3.30" fill="#50500a"/>
<rect x="102.90" y="145.85" width="6.81" height="3.30" fill="#f8f83c"/>
<rect x="109.65" y="100.35" width="6.81" height="3.30" fill="#303006"/>
<rect x="109.65" y="103.60" width="6.81" height="3.30" fill="#e6e62c"/>
<rect x="109.65" y="106.85" width="6.81" height="3.30" fill="#e6e62c"/>
<rect x="109.65" y="110.10" width="6.81" height="3.30" fill="#50500a"/>
<rect x="109.65" y="113.35" width="6.81" height="3.30" fill="#a0a018"/>
<rect x="109.65" y="116.60" width="6.81" height="3.30" fill="#737310"/>
<rect x="109.65" y="119.85" width="6.81" height="3.30" fill="#a0a018"/>
<rect x="109.65" y="123.10" width="6.81" height="3.30" fill="#a0a018"/>
<rect x="109.65" y="126.35" width="6.81" height="3.30" fill="#737310"/>
<rect x="109.65" y="129.60" width="6.81" height="3.30" fill="#303006"/>
<rect x="116.41" y="100.35" width="6.81" height="3.30" fill="#303006"/>
<rect x="116.41" y="103.60" width="6.81" height="3.30" fill="#303006"/>
<rect x="116.41" y="106.85" width="6.81" height="3.30" fill="#1c1c02"/>
<rect x="116.41" y="110.10" width="6.81" height="3.30" fill="#737310"/>
<rect x="116.41" y="113.35" width="6.81" height="3.30" fill="#a0a018"/>
<rect x="116.41" y="116.60" width="6.81" height="3.30" fill="#737310"/>
<rect x="116.41" y="119.85" width="6.81" height="3.30" fill="#a0a018"/>
<rect x="116.41" y="123.10" width="6.81" height="3.30" fill="#a0a018"/>
<rect x="116.41" y="126.35" width="6.81" height="3.30" fill="#737310"/>
<rect x="116.41" y="129.60" width="6.81" height="3.30" fill="#303006"/>
<rect x="116.41" y="132.85" width="6.81" height="3.30" fill="#1c1c02"/>
<rect x="123.17" y="100.35" width="6.81" height="3.30" fill="#1c1c02"/>
<rect x="123.17" y="103.60" width="6.81" height="3.30" fill="#303006"/>
<rect x="123.17" y="106.85" width="6.81" height="3.30" fill="#1c1c02"/>
<rect x="123.17" y="110.10" width="6.81" height="3.30" fill="#737310"/>
<rect x="123.17" y="113.35" width="6.81" height="3.30" fill="#a0a018"/>
<rect x="123.17" y="116.60" width="6.81" height="3.30" fill="#737310"/>
<rect x="123.17" y="119.85" width="6.81" height="3.30" fill="#a0a018"/>
<rect x="123.17" y="123.10" width="6.81" height="3.30" fill="#a0a018"/>
<rect x="123.17" y="126.35" width="6.81" height="3.30" fill="#737310"/>
<rect x="123.17" y="129.60" width="6.81" height="3.30" fill="#303006"/>
<rect x="129.93" y="103.60" width="6.81" height="3.30" fill="#303006"/>
<rect x="129.93" y="106.85" width="6.81" height="3.30" fill="#303006"/>
<rect x="129.93" y="110.10" width="6.81" height="3.30" fill="#a0a018"/>
<rect x="129.93" y="113.35" width="6.81" height="3.30" fill="#c8c822"/>
<rect x="129.93" y="116.60" width="6.81" height="3.30" fill="#a0a018"/>
<rect x="129.93" y="119.85" width="6.81" height="3.30" fill="#c8c822"/>
<rect x="129.93" y="123.10" width="6.81" height="3.30" fill="#a0a018"/>
<rect x="129.93" y="126.35" width="6.81" height="3.30" fill="#50500a"/>
<rect x="129.93" y="129.60" width="6.81" height="3.30" fill="#1c1c02"/>
<rect x="136.68" y="103.60" width="6.81" height="3.30" fill="#50500a"/>
<rect x="136.68" y="106.85" width="6.81" height="3.30" fill="#737310"/>
<rect x="136.68" y="110.10" width="6.81" height="3.30" fill="#f8f83c"/>
<rect x="136.68" y="113.35" width="6.81" height="3.30" fill="#f8f83c"/>
<rect x="136.68" y="116.60" width="6.81" height="3.30" fill="#f8f83c"/>
<rect x="136.68" y="119.85" width="6.81" height="3.30" fill="#f8f83c"/>
<rect x="136.68" y="123.10" width="6.81" height="3.30" fill="#e6e62c"/>
<rect x="136.68" y="126.35" width="6.81" height="3.30" fill="#a0a018"/>
<rect x="136.68" y="129.60" width="6.81" height="3.30" fill="#1c1c02"/>
<rect x="143.44" y="100.35" width="6.81" height="3.30" fill="#50500a"/>
<rect x="143.44" y="103.60" width="6.81" height="3.30" fill="#1c1c02"/>
<rect x="143.44" y="106.85" width="6.81" height="3.30" fill="#303006"/>
<rect x="143.44" y="110.10" width="6.81" height="3.30" fill="#f8f83c"/>
<rect x="143.44" y="113.35" width="6.81" height="3.30" fill="#f8f83c"/>
<rect x="143.44" y="116.60" width="6.81" height="3.30" fill="#f8f83c"/>
<rect x="143.44" y="119.85" width="6.81" height="3.30" fill="#f8f83c"/>
<rect x="143.44" y="123.10" width="6.81" height="3.30" fill="#e6e62c"/>
<rect x="143.44" y="126.35" width="6.81" height="3.30" fill="#737310"/>
<rect x="143.44" y="129.60" width="6.81" height="3.30" fill="#1c1c02"/>
<rect x="143.44" y="132.85" width="6.81" height="3.30" fill="#1c1c02"/>
<rect x="143.44" y="136.10" width="6.81" height="3.30" fill="#1c1c02"/>
<rect x="143.44" y="139.35" width="6.81" height="3.30" fill="#1c1c02"/>
<rect x="150.20" y="100.35" width="6.81" height="3.30" fill="#50500a"/>
<rect x="150.20" y="103.60" width="6.81" height="3.30" fill="#50500a"/>
<rect x="150.20" y="106.85" width="6.81" height="3.30" fill="#737310"/>
<rect x="150.20" y="110.10" width="6.81" height="3.30" fill="#f8f83c"/>
<rect x="150.20" y="113.35" width="6.81" height="3.30" fill="#f8f83c"/>
<rect x="150.20" y="116.60" width="6.81" height="3.30" fill="#f8f83c"/>
<rect x="150.20" y="119.85" width="6.81" height="3.30" fill="#f8f83c"/>
<rect x="150.20" y="123.10" width="6.81" height="3.30" fill="#e6e62c"/>
<rect x="150.20" y="126.35" width="6.81" height="3.30" fill="#a0a018"/>
<rect x="150.20" y="129.60" width="6.81" height="3.30" fill="#303006"/>
<rect x="150.20" y="132.85" width="6.81" height="3.30" fill="#1c1c02"/>
<rect x="150.20" y="136.10" width="6.81" height="3.30" fill="#1c1c02"/>
<rect x="150.20" y="139.35" width="6.81" height="3.30" fill="#1c1c02"/>
<rect x="156.95" y="100.35" width="6.81" height="3.30" fill="#a0a018"/>
<rect x="156.95" y="103.60" width="6.81" height="3.30" fill="#737310"/>
<rect x="156.95" y="106.85" width="6.81" height="3.30" fill="#303006"/>
<rect x="156.95" y="110.10" width="6.81" height="3.30" fill="#50500a"/>
<rect x="156.95" y="113.35" width="6.81" height="3.30" fill="#a0a018"/>
<rect x="156.95" y="116.60" width="6.81" height="3.30" fill="#e6e62c"/>
<rect x="156.95" y="119.85" width="6.81" height="3.30" fill="#e6e62c"/>
<rect x="156.95" y="123.10" width="6.81" height="3.30" fill="#a0a018"/>
<rect x="163.71" y="100.35" width="6.81" height="3.30" fill="#a0a018"/>
<rect x="163.71" y="103.60" width="6.81" height="3.30" fill="#50500a"/>
<rect x="163.71" y="106.85" width="6.81" height="3.30" fill="#50500a"/>
<rect x="163.71" y="110.10" width="6.81" height="3.30" fill="#a0a018"/>
<rect x="163.71" y="113.35" width="6.81" height="3.30" fill="#c8c822"/>
<rect x="163.71" y="116.60" width="6.81" height="3.30" fill="#a0a018"/>
<rect x="163.71" y="119.85" width="6.81" height="3.30" fill="#c8c822"/>
<rect x="163.71" y="123.10" width="6.81" height="3.30" fill="#a0a018"/>
<rect x="163.71" y="126.35" width="6.81" height="3.30" fill="#50500a"/>
<rect x="163.71" y="129.60" width="6.81" height="3.30" fill="#303006"/>
<rect x="163.71" y="132.85" width="6.81" height="3.30" fill="#1c1c02"/>
<rect x="163.71" y="136.10" width="6.81" height="3.30" fill="#1c1c02"/>
<rect x="163.71" y="139.35" width="6.81" height="3.30" fill="#1c1c02"/>
<rect x="170.47" y="100.35" width="6.81" height="3.30" fill="#737310"/>
<rect x="170.47" y="103.60" width="6.81" height="3.30" fill="#303006"/>
<rect x="170.47" y="106.85" width="6.81" height="3.30" fill="#1c1c02"/>
<rect x="170.47" y="110.10" width="6.81" height="3.30" fill="#737310"/>
<rect x="170.47" y="113.35" width="6.81" height="3.30" fill="#303006"/>
<rect x="170.47" y="116.60" width="6.81" height="3.30" fill="#1c1c02"/>
<rect x="170.47" y="119.85" width="6.81" height="3.30" fill="#a0a018"/>
<rect x="170.47" y="123.10" width="6.81" height="3.30" fill="#737310"/>
<rect x="170.47" y="126.35" width="6.81" height="3.30" fill="#303006"/>
<rect x="170.47" y="129.60" width="6.81" height="3.30" fill="#303006"/>
<rect x="170.47" y="132.85" width="6.81" height="3.30" fill="#1c1c02"/>
<rect x="170.47" y="136.10" width="6.81" height="3.30" fill="#1c1c02"/>
<rect x="170.47" y="139.35" width="6.81" height="3.30" fill="#1c1c02"/>
<rect x="170.47" y="145.85" width="6.81" height="3.30" fill="#50500a"/>
<rect x="177.22" y="100.35" width="6.81" height="3.30" fill="#a0a018"/>
<rect x="177.22" y="103.60" width="6.81" height="3.30" fill="#50500a"/>
<rect x="177.22" y="106.85" width="6.81" height="3.30" fill="#737310"/>
<rect x="177.22" y="110.10" width="6.81" height="3.30" fill="#e6e62c"/>
<rect x="177.22" y="113.35" width="6.81" height="3.30" fill="#e6e62c"/>
<rect x="177.22" y="116.60" width="6.81" height="3.30" fill="#e6e62c"/>
<rect x="177.22" y="119.85" width="6.81" height="3.30" fill="#e6e62c"/>
<rect x="177.22" y="123.10" width="6.81" height="3.30" fill="#c8c822"/>
<rect x="177.22" y="126.35" width="6.81" height="3.30" fill="#50500a"/>
<rect x="177.22" y="129.60" width="6.81" height="3.30" fill="#1c1c02"/>
<rect x="183.98" y="100.35" width="6.81" height="3.30" fill="#a0a018"/>
<rect x="183.98" y="103.60" width="6.81" height="3.30" fill="#50500a"/>
<rect x="183.98" y="106.85" width="6.81" height="3.30" fill="#e6e62c"/>
<rect x="183.98" y="110.10" width="6.81" height="3.30" fill="#f8f83c"/>
<rect x="183.98" y="113.35" width="6.81" height="3.30" fill="#f8f83c"/>
<rect x="183.98" y="116.60" width="6.81" height="3.30" fill="#f8f83c"/>
<rect x="183.98" y="119.85" width="6.81" height="3.30" fill="#f8f83c"/>
<rect x="183.98" y="123.10" width="6.81" height="3.30" fill="#c8c822"/>
<rect x="183.98" y="126.35" width="6.81" height="3.30" fill="#737310"/>
<rect x="183.98" y="129.60" width="6.81" height="3.30" fill="#303006"/>
<rect x="190.74" y="100.35" width="6.81" height="3.30" fill="#303006"/>
<rect x="190.74" y="103.60" width="6.81" height="3.30" fill="#303006"/>
<rect x="190.74" y="106.85" width="6.81" height="3.30" fill="#a0a018"/>
<rect x="190.74" y="110.10" width="6.81" height="3.30" fill="#737310"/>
<rect x="190.74" y="113.35" width="6.81" height="3.30" fill="#a0a018"/>
<rect x="190.74" y="116.60" width="6.81" height="3.30" fill="#1c1c02"/>
<rect x="190.74" y="119.85" width="6.81" height="3.30" fill="#737310"/>
<rect x="190.74" y="123.10" width="6.81" height="3.30" fill="#303006"/>
<rect x="190.74" y="126.35" width="6.81" height="3.30" fill="#50500a"/>
<rect x="190.74" y="129.60" width="6.81" height="3.30" fill="#737310"/>
<rect x="190.74" y="132.85" width="6.81" height="3.30" fill="#303006"/>
<rect x="190.74" y="136.10" width="6.81" height="3.30" fill="#a0a018"/>
<rect x="190.74" y="139.35" width="6.81" height="3.30" fill="#1c1c02"/>
<rect x="197.50" y="100.35" width="6.81" height="3.30" fill="#303006"/>
<rect x="197.50" y="103.60" width="6.81" height="3.30" fill="#a0a018"/>
<rect x="197.50" y="106.85" width="6.81" height="3.30" fill="#1c1c02"/>
<rect x="197.50" y="110.10" width="6.81" height="3.30" fill="#1c1c02"/>
<rect x="197.50" y="113.35" width="6.81" height="3.30" fill="#c8c822"/>
<rect x="197.50" y="116.60" width="6.81" height="3.30" fill="#303006"/>
<rect x="197.50" y="119.85" width="6.81" height="3.30" fill="#c8c822"/>
<rect x="197.50" y="123.10" width="6.81" height="3.30" fill="#737310"/>
<rect x="197.50" y="126.35" width="6.81" height="3.30" fill="#1c1c02"/>
<rect x="197.50" y="129.60" width="6.81" height="3.30" fill="#50500a"/>
<rect x="197.50" y="132.85" width="6.81" height="3.30" fill="#1c1c02"/>
<rect x="197.50" y="136.10" width="6.81" height="3.30" fill="#e6e62c"/>
<rect x="197.50" y="139.35" width="6.81" height="3.30" fill="#1c1c02"/>
<rect x="204.25" y="100.35" width="6.81" height="3.30" fill="#50500a"/>
<rect x="204.25" y="103.60" width="6.81" height="3.30" fill="#a0a018"/>
<rect x="204.25" y="106.85" width="6.81" height="3.30" fill="#303006"/>
<rect x="204.25" y="110.10" width="6.81" height="3.30" fill="#50500a"/>
<rect x="204.25" y="113.35" width="6.81" height="3.30" fill="#a0a018"/>
<rect x="204.25" y="116.60" width="6.81" height="3.30" fill="#303006"/>
<rect x="204.25" y="119.85" width="6.81" height="3.30" fill="#c8c822"/>
<rect x="204.25" y="123.10" width="6.81" height="3.30" fill="#50500a"/>
<rect x="204.25" y="126.35" width="6.81" height="3.30" fill="#1c1c02"/>
<rect x="204.25" y="129.60" width="6.81" height="3.30" fill="#50500a"/>
<rect x="204.25" y="132.85" width="6.81" height="3.30" fill="#1c1c02"/>
<rect x="204.25" y="136.10" width="6.81" height="3.30" fill="#737310"/>
<rect x="204.25" y="139.35" width="6.81" height="3.30" fill="#1c1c02"/>
<rect x="211.01" y="100.35" width="6.81" height="3.30" fill="#737310"/>
<rect x="211.01" y="103.60" width="6.81" height="3.30" fill="#c8c822"/>
<rect x="211.01" y="106.85" width="6.81" height="3.30" fill="#303006"/>
<rect x="211.01" y="110.10" width="6.81" height="3.30" fill="#737310"/>
<rect x="211.01" y="113.35" width="6.81" height="3.30" fill="#737310"/>
<rect x="211.01" y="116.60" width="6.81" height="3.30" fill="#c8c822"/>
<rect x="211.01" y="119.85" width="6.81" height="3.30" fill="#e6e62c"/>
<rect x="211.01" y="123.10" width="6.81" height="3.30" fill="#303006"/>
<rect x="211.01" y="126.35" width="6.81" height="3.30" fill="#1c1c02"/>
<rect x="211.01" y="129.60" width="6.81" height="3.30" fill="#303006"/>
<rect x="211.01" y="132.85" width="6.81" height="3.30" fill="#1c1c02"/>
<rect x="211.01" y="136.10" width="6.81" height="3.30" fill="#50500a"/>
<rect x="211.01" y="139.35" width="6.81" height="3.30" fill="#1c1c02"/>
<rect x="217.77" y="100.35" width="6.81" height="3.30" fill="#50500a"/>
<rect x="217.77" y="103.60" width="6.81" height="3.30" fill="#303006"/>
<rect x="217.77" y="106.85" width="6.81" height="3.30" fill="#303006"/>
<rect x="217.77" y="110.10" width="6.81" height="3.30" fill="#a0a018"/>
<rect x="217.77" y="113.35" width="6.81" height="3.30" fill="#50500a"/>
<rect x="217.77" y="116.60" width="6.81" height="3.30" fill="#a0a018"/>
<rect x="217.77" y="119.85" width="6.81" height="3.30" fill="#a0a018"/>
<rect x="217.77" y="123.10" width="6.81" height="3.30" fill="#1c1c02"/>
<rect x="217.77" y="129.60" width="6.81" height="3.30" fill="#1c1c02"/>
<rect x="217.77" y="136.10" width="6.81" height="3.30" fill="#c8c822"/>
<rect x="217.77" y="139.35" width="6.81" height="3.30" fill="#1c1c02"/>
<rect x="224.52" y="97.10" width="6.81" height="3.30" fill="#50500a"/>
<rect x="224.52" y="100.35" width="6.81" height="3.30" fill="#50500a"/>
<rect x="224.52" y="103.60" width="6.81" height="3.30" fill="#303006"/>
<rect x="224.52" y="106.85" width="6.81" height="3.30" fill="#737310"/>
<rect x="224.52" y="110.10" width="6.81" height="3.30" fill="#303006"/>
<rect x="224.52" y="113.35" width="6.81" height="3.30" fill="#a0a018"/>
<rect x="224.52" y="116.60" width="6.81" height="3.30" fill="#737310"/>
<rect x="224.52" y="119.85" width="6.81" height="3.30" fill="#737310"/>
<rect x="224.52" y="123.10" width="6.81" height="3.30" fill="#303006"/>
<rect x="231.28" y="100.35" width="6.81" height="3.30" fill="#737310"/>
<rect x="231.28" y="103.60" width="6.81" height="3.30" fill="#a0a018"/>
<rect x="231.28" y="106.85" width="6.81" height="3.30" fill="#303006"/>
<rect x="231.28" y="110.10" width="6.81" height="3.30" fill="#303006"/>
<rect x="231.28" y="113.35" width="6.81" height="3.30" fill="#737310"/>
<rect x="231.28" y="116.60" width="6.81" height="3.30" fill="#c8c822"/>
<rect x="231.28" y="119.85" width="6.81" height="3.30" fill="#a0a018"/>
<rect x="231.28" y="123.10" width="6.81" height="3.30" fill="#a0a018"/>
<rect x="231.28" y="126.35" width="6.81" height="3.30" fill="#303006"/>
<rect x="231.28" y="129.60" width="6.81" height="3.30" fill="#1c1c02"/>
<rect x="231.28" y="136.10" width="6.81" height="3.30" fill="#1c1c02"/>
<rect x="238.04" y="103.60" width="6.81" height="3.30" fill="#50500a"/>
<rect x="238.04" y="106.85" width="6.81" height="3.30" fill="#1c1c02"/>
<rect x="238.04" y="113.35" width="6.81" height="3.30" fill="#737310"/>
<rect x="238.04" y="116.60" width="6.81" height="3.30" fill="#737310"/>
<rect x="238.04" y="119.85" width="6.81" height="3.30" fill="#50500a"/>
<rect x="238.04" y="123.10" width="6.81" height="3.30" fill="#c8c822"/>
<rect x="238.04" y="126.35" width="6.81" height="3.30" fill="#1c1c02"/>
<rect x="238.04" y="136.10" width="6.81" height="3.30" fill="#1c1c02"/>
<rect x="244.79" y="110.10" width="6.81" height="3.30" fill="#1c1c02"/>
<rect x="244.79" y="113.35" width="6.81" height="3.30" fill="#e6e62c"/>
<rect x="244.79" y="116.60" width="6.81" height="3.30" fill="#303006"/>
<rect x="244.79" y="119.85" width="6.81" height="3.30" fill="#c8c822"/>
<rect x="244.79" y="123.10" width="6.81" height="3.30" fill="#50500a"/>
<rect x="244.79" y="126.35" width="6.81" height="3.30" fill="#303006"/>
<rect x="244.79" y="129.60" width="6.81" height="3.30" fill="#303006"/>
<rect x="244.79" y="132.85" width="6.81" height="3.30" fill="#1c1c02"/>
<rect x="251.55" y="100.35" width="6.81" height="3.30" fill="#e6e62c"/>
<rect x="251.55" y="103.60" width="6.81" height="3.30" fill="#303006"/>
<rect x="251.55" y="106.85" width="6.81" height="3.30" fill="#1c1c02"/>
<rect x="251.55" y="110.10" width="6.81" height="3.30" fill="#1c1c02"/>
<rect x="251.55" y="113.35" width="6.81" height="3.30" fill="#e6e62c"/>
<rect x="251.55" y="116.60" width="6.81" height="3.30" fill="#1c1c02"/>
<rect x="251.55" y="119.85" width="6.81" height="3.30" fill="#c8c822"/>
<rect x="251.55" y="123.10" width="6.81" height="3.30" fill="#303006"/>
<rect x="251.55" y="126.35" width="6.81" height="3.30" fill="#1c1c02"/>
<rect x="251.55" y="129.60" width="6.81" height="3.30" fill="#303006"/>
<rect x="251.55" y="136.10" width="6.81" height="3.30" fill="#1c1c02"/>
<rect x="258.31" y="100.35" width="6.81" height="3.30" fill="#e6e62c"/>
<rect x="258.31" y="103.60" width="6.81" height="3.30" fill="#303006"/>
<rect x="258.31" y="106.85" width="6.81" height="3.30" fill="#1c1c02"/>
<rect x="258.31" y="113.35" width="6.81" height="3.30" fill="#e6e62c"/>
<rect x="258.31" y="116.60" width="6.81" height="3.30" fill="#1c1c02"/>
<rect x="258.31" y="119.85" width="6.81" height="3.30" fill="#303006"/>
<rect x="258.31" y="123.10" width="6.81" height="3.30" fill="#1c1c02"/>
<rect x="258.31" y="129.60" width="6.81" height="3.30" fill="#303006"/>
<rect x="265.07" y="100.35" width="6.81" height="3.30" fill="#e6e62c"/>
<rect x="265.07" y="103.60" width="6.81" height="3.30" fill="#a0a018"/>
<rect x="265.07" y="106.85" width="6.81" height="3.30" fill="#1c1c02"/>
<rect x="265.07" y="113.35" width="6.81" height="3.30" fill="#737310"/>
<rect x="265.07" y="116.60" width="6.81" height="3.30" fill="#1c1c02"/>
<rect x="265.07" y="119.85" width="6.81" height="3.30" fill="#e6e62c"/>
<rect x="265.07" y="123.10" width="6.81" height="3.30" fill="#50500a"/>
<rect x="265.07" y="129.60" width="6.81" height="3.30" fill="#303006"/>
<rect x="271.82" y="100.35" width="6.81" height="3.30" fill="#c8c822"/>
<rect x="271.82" y="103.60" width="6.81" height="3.30" fill="#737310"/>
<rect x="271.82" y="106.85" width="6.81" height="3.30" fill="#303006"/>
<rect x="271.82" y="113.35" width="6.81" height="3.30" fill="#1c1c02"/>
<rect x="271.82" y="116.60" width="6.81" height="3.30" fill="#1c1c02"/>
<rect x="271.82" y="119.85" width="6.81" height="3.30" fill="#e6e62c"/>
<rect x="271.82" y="123.10" width="6.81" height="3.30" fill="#737310"/>
<rect x="271.82" y="126.35" width="6.81" height="3.30" fill="#1c1c02"/>
<rect x="278.58" y="110.10" width="6.81" height="3.30" fill="#303006"/>
<rect x="278.58" y="119.85" width="6.81" height="3.30" fill="#e6e62c"/>
<rect x="278.58" y="123.10" width="6.81" height="3.30" fill="#a0a018"/>
<rect x="285.34" y="100.35" width="6.81" height="3.30" fill="#c8c822"/>
<rect x="285.34" y="103.60" width="6.81" height="3.30" fill="#50500a"/>
<rect x="285.34" y="106.85" width="6.81" height="3.30" fill="#303006"/>
<rect x="285.34" y="119.85" width="6.81" height="3.30" fill="#50500a"/>
<rect x="285.34" y="123.10" width="6.81" height="3.30" fill="#50500a"/>
<rect x="285.34" y="129.60" width="6.81" height="3.30" fill="#1c1c02"/>
<rect x="285.34" y="132.85" width="6.81" height="3.30" fill="#303006"/>
<rect x="285.34" y="136.10" width="6.81" height="3.30" fill="#50500a"/>
<rect x="285.34" y="139.35" width="6.81" height="3.30" fill="#1c1c02"/>
<rect x="292.09" y="100.35" width="6.81" height="3.30" fill="#c8c822"/>
<rect x="292.09" y="103.60" width="6.81" height="3.30" fill="#737310"/>
<rect x="292.09" y="113.35" width="6.81" height="3.30" fill="#1c1c02"/>
<rect x="292.09" y="123.10" width="6.81" height="3.30" fill="#1c1c02"/>
<rect x="298.85" y="100.35" width="6.81" height="3.30" fill="#c8c822"/>
<rect x="298.85" y="103.60" width="6.81" height="3.30" fill="#303006"/>
<rect x="298.85" y="110.10" width="6.81" height="3.30" fill="#1c1c02"/>
<rect x="305.61" y="100.35" width="6.81" height="3.30" fill="#c8c822"/>
<rect x="305.61" y="103.60" width="6.81" height="3.30" fill="#303006"/>
<rect x="305.61" y="110.10" width="6.81" height="3.30" fill="#1c1c02"/>
<rect x="312.37" y="97.10" width="6.81" height="3.30" fill="#1c1c02"/>
<rect x="312.37" y="100.35" width="6.81" height="3.30" fill="#303006"/>
<rect x="312.37" y="103.60" width="6.81" height="3.30" fill="#1c1c02"/>
<rect x="312.37" y="116.60" width="6.81" height="3.30" fill="#1c1c02"/>
<rect x="312.37" y="126.35" width="6.81" height="3.30" fill="#1c1c02"/>
<rect x="312.37" y="129.60" width="6.81" height="3.30" fill="#303006"/>
<rect x="312.37" y="132.85" width="6.81" height="3.30" fill="#e6e62c"/>
<rect x="312.37" y="136.10" width="6.81" height="3.30" fill="#50500a"/>
<rect x="312.37" y="139.35" width="6.81" height="3.30" fill="#303006"/>
<rect x="312.37" y="142.60" width="6.81" height="3.30" fill="#1c1c02"/>
<rect x="312.37" y="145.85" width="6.81" height="3.30" fill="#1c1c02"/>
<rect x="319.12" y="100.35" width="6.81" height="3.30" fill="#1c1c02"/>
<rect x="319.12" y="103.60" width="6.81" height="3.30" fill="#1c1c02"/>
<rect x="319.12" y="106.85" width="6.81" height="3.30" fill="#50500a"/>
<rect x="319.12" y="110.10" width="6.81" height="3.30" fill="#50500a"/>
<rect x="319.12" y="113.35" width="6.81" height="3.30" fill="#50500a"/>
<rect x="319.12" y="116.60" width="6.81" height="3.30" fill="#303006"/>
<rect x="319.12" y="119.85" width="6.81" height="3.30" fill="#1c1c02"/>
<rect x="319.12" y="123.10" width="6.81" height="3.30" fill="#303006"/>
<rect x="319.12" y="126.35" width="6.81" height="3.30" fill="#303006"/>
<rect x="319.12" y="129.60" width="6.81" height="3.30" fill="#303006"/>
<rect x="319.12" y="132.85" width="6.81" height="3.30" fill="#737310"/>
<rect x="319.12" y="136.10" width="6.81" height="3.30" fill="#303006"/>
<rect x="319.12" y="139.35" width="6.81" height="3.30" fill="#303006"/>
<rect x="319.12" y="142.60" width="6.81" height="3.30" fill="#1c1c02"/>
<rect x="319.12" y="145.85" width="6.81" height="3.30" fill="#303006"/>
<rect x="325.88" y="106.85" width="6.81" height="3.30" fill="#1c1c02"/>
<rect x="325.88" y="110.10" width="6.81" height="3.30" fill="#1c1c02"/>
<rect x="325.88" y="113.35" width="6.81" height="3.30" fill="#1c1c02"/>
<rect x="325.88" y="116.60" width="6.81" height="3.30" fill="#1c1c02"/>
<rect x="325.88" y="119.85" width="6.81" height="3.30" fill="#303006"/>
<rect x="325.88" y="123.10" width="6.81" height="3.30" fill="#303006"/>
<rect x="325.88" y="126.35" width="6.81" height="3.30" fill="#303006"/>
<rect x="325.88" y="129.60" width="6.81" height="3.30" fill="#1c1c02"/>
<rect x="325.88" y="132.85" width="6.81" height="3.30" fill="#737310"/>
<rect x="325.88" y="136.10" width="6.81" height="3.30" fill="#1c1c02"/>
<rect x="325.88" y="139.35" width="6.81" height="3.30" fill="#1c1c02"/>
<rect x="325.88" y="145.85" width="6.81" height="3.30" fill="#1c1c02"/>
<rect x="332.64" y="106.85" width="6.81" height="3.30" fill="#1c1c02"/>
<rect x="332.64" y="110.10" width="6.81" height="3.30" fill="#1c1c02"/>
<rect x="332.64" y="113.35" width="6.81" height="3.30" fill="#303006"/>
<rect x="332.64" y="116.60" width="6.81" height="3.30" fill="#1c1c02"/>
<rect x="332.64" y="119.85" width="6.81" height="3.30" fill="#303006"/>
<rect x="332.64" y="123.10" width="6.81" height="3.30" fill="#303006"/>
<rect x="332.64" y="126.35" width="6.81" height="3.30" fill="#1c1c02"/>
<rect x="332.64" y="129.60" width="6.81" height="3.30" fill="#1c1c02"/>
<rect x="332.64" y="132.85" width="6.81" height="3.30" fill="#737310"/>
<rect x="332.64" y="136.10" width="6.81" height="3.30" fill="#303006"/>
<rect x="332.64" y="139.35" width="6.81" height="3.30" fill="#1c1c02"/>
<rect x="332.64" y="142.60" width="6.81" height="3.30" fill="#1c1c02"/>
<rect x="339.39" y="110.10" width="6.81" height="3.30" fill="#303006"/>
<rect x="339.39" y="113.35" width="6.81" height="3.30" fill="#303006"/>
<rect x="339.39" y="116.60" width="6.81" height="3.30" fill="#1c1c02"/>
<rect x="339.39" y="119.85" width="6.81" height="3.30" fill="#303006"/>
<rect x="339.39" y="123.10" width="6.81" height="3.30" fill="#303006"/>
<rect x="339.39" y="126.35" width="6.81" height="3.30" fill="#1c1c02"/>
<rect x="339.39" y="129.60" width="6.81" height="3.30" fill="#1c1c02"/>
<rect x="339.39" y="132.85" width="6.81" height="3.30" fill="#737310"/>
<rect x="339.39" y="136.10" width="6.81" height="3.30" fill="#1c1c02"/>
<rect x="339.39" y="139.35" width="6.81" height="3.30" fill="#1c1c02"/>
<rect x="339.39" y="142.60" width="6.81" height="3.30" fill="#303006"/>
<rect x="339.39" y="145.85" width="6.81" height="3.30" fill="#1c1c02"/>
<rect x="346.15" y="110.10" width="6.81" height="3.30" fill="#303006"/>
<rect x="346.15" y="113.35" width="6.81" height="3.30" fill="#303006"/>
<rect x="346.15" y="116.60" width="6.81" height="3.30" fill="#1c1c02"/>
<rect x="346.15" y="119.85" width="6.81" height="3.30" fill="#1c1c02"/>
<rect x="346.15" y="123.10" width="6.81" height="3.30" fill="#1c1c02"/>
<rect x="346.15" y="126.35" width="6.81" height="3.30" fill="#1c1c02"/>
<rect x="346.15" y="129.60" width="6.81" height="3.30" fill="#303006"/>
<rect x="346.15" y="132.85" width="6.81" height="3.30" fill="#a0a018"/>
<rect x="346.15" y="136.10" width="6.81" height="3.30" fill="#1c1c02"/>
<rect x="346.15" y="139.35" width="6.81" height="3.30" fill="#1c1c02"/>
<rect x="346.15" y="142.60" width="6.81" height="3.30" fill="#303006"/>
<rect x="346.15" y="145.85" width="6.81" height="3.30" fill="#1c1c02"/>
<rect x="352.91" y="100.35" width="6.81" height="3.30" fill="#1c1c02"/>
<rect x="352.91" y="110.10" width="6.81" height="3.30" fill="#303006"/>
<rect x="352.91" y="113.35" width="6.81" height="3.30" fill="#1c1c02"/>
<rect x="352.91" y="119.85" width="6.81" height="3.30" fill="#1c1c02"/>
<rect x="352.91" y="123.10" width="6.81" height="3.30" fill="#303006"/>
<rect x="352.91" y="126.35" width="6.81" height="3.30" fill="#1c1c02"/>
<rect x="352.91" y="129.60" width="6.81" height="3.30" fill="#1c1c02"/>
<rect x="352.91" y="132.85" width="6.81" height="3.30" fill="#a0a018"/>
<rect x="352.91" y="136.10" width="6.81" height="3.30" fill="#1c1c02"/>
<rect x="352.91" y="139.35" width="6.81" height="3.30" fill="#1c1c02"/>
<rect x="352.91" y="142.60" width="6.81" height="3.30" fill="#1c1c02"/>
<rect x="352.91" y="145.85" width="6.81" height="3.30" fill="#1c1c02"/>
<rect x="359.66" y="100.35" width="6.81" height="3.30" fill="#1c1c02"/>
<rect x="359.66" y="103.60" width="6.81" height="3.30" fill="#1c1c02"/>
<rect x="359.66" y="110.10" width="6.81" height="3.30" fill="#303006"/>
<rect x="359.66" y="113.35" width="6.81" height="3.30" fill="#303006"/>
<rect x="359.66" y="116.60" width="6.81" height="3.30" fill="#1c1c02"/>
<rect x="359.66" y="119.85" width="6.81" height="3.30" fill="#1c1c02"/>
<rect x="359.66" y="123.10" width="6.81" height="3.30" fill="#303006"/>
<rect x="359.66" y="126.35" width="6.81" height="3.30" fill="#1c1c02"/>
<rect x="359.66" y="129.60" width="6.81" height="3.30" fill="#303006"/>
<rect x="359.66" y="132.85" width="6.81" height="3.30" fill="#a0a018"/>
<rect x="359.66" y="136.10" width="6.81" height="3.30" fill="#303006"/>
<rect x="359.66" y="139.35" width="6.81" height="3.30" fill="#303006"/>
<rect x="359.66" y="142.60" width="6.81" height="3.30" fill="#1c1c02"/>
<rect x="366.42" y="100.35" width="6.81" height="3.30" fill="#1c1c02"/>
<rect x="366.42" y="110.10" width="6.81" height="3.30" fill="#303006"/>
<rect x="366.42" y="113.35" width="6.81" height="3.30" fill="#1c1c02"/>
<rect x="366.42" y="116.60" width="6.81" height="3.30" fill="#1c1c02"/>
<rect x="366.42" y="119.85" width="6.81" height="3.30" fill="#1c1c02"/>
<rect x="366.42" y="123.10" width="6.81" height="3.30" fill="#1c1c02"/>
<rect x="366.42" y="126.35" width="6.81" height="3.30" fill="#1c1c02"/>
<rect x="366.42" y="129.60" width="6.81" height="3.30" fill="#303006"/>
<rect x="366.42" y="132.85" width="6.81" height="3.30" fill="#a0a018"/>
<rect x="366.42" y="136.10" width="6.81" height="3.30" fill="#1c1c02"/>
<rect x="366.42" y="139.35" width="6.81" height="3.30" fill="#1c1c02"/>
<rect x="366.42" y="142.60" width="6.81" height="3.30" fill="#1c1c02"/>
<rect x="373.18" y="110.10" width="6.81" height="3.30" fill="#1c1c02"/>
<rect x="373.18" y="113.35" width="6.81" height="3.30" fill="#1c1c02"/>
<rect x="373.18" y="116.60" width="6.81" height="3.30" fill="#1c1c02"/>
<rect x="373.18" y="119.85" width="6.81" height="3.30" fill="#1c1c02"/>
<rect x="373.18" y="123.10" width="6.81" height="3.30" fill="#1c1c02"/>
<rect x="373.18" y="126.35" width="6.81" height="3.30" fill="#1c1c02"/>
<rect x="373.18" y="129.60" width="6.81" height="3.30" fill="#1c1c02"/>
<rect x="373.18" y="132.85" width="6.81" height="3.30" fill="#303006"/>
<rect x="373.18" y="136.10" width="6.81" height="3.30" fill="#50500a"/>
<rect x="373.18" y="139.35" width="6.81" height="3.30" fill="#737310"/>
<rect x="373.18" y="142.60" width="6.81" height="3.30" fill="#303006"/>
<rect x="373.18" y="145.85" width="6.81" height="3.30" fill="#1c1c02"/>
<rect x="379.94" y="110.10" width="6.81" height="3.30" fill="#1c1c02"/>
<rect x="379.94" y="113.35" width="6.81" height="3.30" fill="#1c1c02"/>
<rect x="379.94" y="116.60" width="6.81" height="3.30" fill="#1c1c02"/>
<rect x="379.94" y="119.85" width="6.81" height="3.30" fill="#1c1c02"/>
<rect x="379.94" y="123.10" width="6.81" height="3.30" fill="#1c1c02"/>
<rect x="379.94" y="126.35" width="6.81" height="3.30" fill="#1c1c02"/>
<rect x="379.94" y="129.60" width="6.81" height="3.30" fill="#303006"/>
<rect x="379.94" y="132.85" width="6.81" height="3.30" fill="#303006"/>
<rect x="379.94" y="136.10" width="6.81" height="3.30" fill="#737310"/>
<rect x="379.94" y="139.35" width="6.81" height="3.30" fill="#737310"/>
<rect x="379.94" y="142.60" width="6.81" height="3.30" fill="#303006"/>
<rect x="379.94" y="145.85" width="6.81" height="3.30" fill="#1c1c02"/>
<rect x="386.69" y="106.85" width="6.81" height="3.30" fill="#303006"/>
<rect x="386.69" y="110.10" width="6.81" height="3.30" fill="#737310"/>
<rect x="386.69" y="113.35" width="6.81" height="3.30" fill="#737310"/>
<rect x="386.69" y="116.60" width="6.81" height="3.30" fill="#737310"/>
<rect x="386.69" y="119.85" width="6.81" height="3.30" fill="#50500a"/>
<rect x="386.69" y="123.10" width="6.81" height="3.30" fill="#50500a"/>
<rect x="386.69" y="126.35" width="6.81" height="3.30" fill="#50500a"/>
<rect x="386.69" y="129.60" width="6.81" height="3.30" fill="#737310"/>
<rect x="386.69" y="132.85" width="6.81" height="3.30" fill="#737310"/>
<rect x="386.69" y="136.10" width="6.81" height="3.30" fill="#50500a"/>
<rect x="386.69" y="139.35" width="6.81" height="3.30" fill="#50500a"/>
<rect x="386.69" y="142.60" width="6.81" height="3.30" fill="#303006"/>
<rect x="386.69" y="145.85" width="6.81" height="3.30" fill="#1c1c02"/>
<rect x="393.45" y="106.85" width="6.81" height="3.30" fill="#1c1c02"/>
<rect x="393.45" y="110.10" width="6.81" height="3.30" fill="#303006"/>
<rect x="393.45" y="113.35" width="6.81" height="3.30" fill="#303006"/>
<rect x="393.45" y="116.60" width="6.81" height="3.30" fill="#303006"/>
<rect x="393.45" y="119.85" width="6.81" height="3.30" fill="#50500a"/>
<rect x="393.45" y="123.10" width="6.81" height="3.30" fill="#303006"/>
<rect x="393.45" y="126.35" width="6.81" height="3.30" fill="#303006"/>
<rect x="393.45" y="129.60" width="6.81" height="3.30" fill="#737310"/>
<rect x="393.45" y="132.85" width="6.81" height="3.30" fill="#c8c822"/>
<rect x="393.45" y="136.10" width="6.81" height="3.30" fill="#50500a"/>
<rect x="393.45" y="139.35" width="6.81" height="3.30" fill="#303006"/>
<rect x="393.45" y="142.60" width="6.81" height="3.30" fill="#303006"/>
<rect x="393.45" y="145.85" width="6.81" height="3.30" fill="#1c1c02"/>
<rect x="400.21" y="106.85" width="6.81" height="3.30" fill="#737310"/>
<rect x="400.21" y="110.10" width="6.81" height="3.30" fill="#737310"/>
<rect x="400.21" y="113.35" width="6.81" height="3.30" fill="#737310"/>
<rect x="400.21" y="116.60" width="6.81" height="3.30" fill="#737310"/>
<rect x="400.21" y="119.85" width="6.81" height="3.30" fill="#50500a"/>
<rect x="400.21" y="123.10" width="6.81" height="3.30" fill="#303006"/>
<rect x="400.21" y="126.35" width="6.81" height="3.30" fill="#1c1c02"/>
<rect x="406.96" y="100.35" width="6.81" height="3.30" fill="#1c1c02"/>
<rect x="406.96" y="106.85" width="6.81" height="3.30" fill="#303006"/>
<rect x="406.96" y="110.10" width="6.81" height="3.30" fill="#1c1c02"/>
<rect x="406.96" y="113.35" width="6.81" height="3.30" fill="#1c1c02"/>
<rect x="406.96" y="132.85" width="6.81" height="3.30" fill="#1c1c02"/>
<rect x="413.72" y="116.60" width="6.81" height="3.30" fill="#1c1c02"/>
<rect x="413.72" y="119.85" width="6.81" height="3.30" fill="#1c1c02"/>
<rect x="413.72" y="126.35" width="6.81" height="3.30" fill="#1c1c02"/>
<rect x="420.48" y="110.10" width="6.81" height="3.30" fill="#1c1c02"/>
<rect x="427.23" y="110.10" width="6.81" height="3.30" fill="#1c1c02"/>
<rect x="427.23" y="119.85" width="6.81" height="3.30" fill="#1c1c02"/>
<rect x="427.23" y="132.85" width="6.81" height="3.30" fill="#1c1c02"/>
<rect x="427.23" y="139.35" width="6.81" height="3.30" fill="#1c1c02"/>
<rect x="433.99" y="110.10" width="6.81" height="3.30" fill="#1c1c02"/>
<rect x="433.99" y="119.85" width="6.81" height="3.30" fill="#1c1c02"/>
<rect x="433.99" y="123.10" width="6.81" height="3.30" fill="#1c1c02"/>
<rect x="433.99" y="129.60" width="6.81" height="3.30" fill="#1c1c02"/>
<rect x="433.99" y="132.85" width="6.81" height="3.30" fill="#1c1c02"/>
<rect x="440.75" y="106.85" width="6.81" height="3.30" fill="#303006"/>
<rect x="440.75" y="110.10" width="6.81" height="3.30" fill="#303006"/>
<rect x="440.75" y="113.35" width="6.81" height="3.30" fill="#1c1c02"/>
<rect x="440.75" y="129.60" width="6.81" height="3.30" fill="#1c1c02"/>
<rect x="440.75" y="132.85" width="6.81" height="3.30" fill="#303006"/>
<rect x="447.50" y="106.85" width="6.81" height="3.30" fill="#1c1c02"/>
<rect x="447.50" y="110.10" width="6.81" height="3.30" fill="#50500a"/>
<rect x="447.50" y="113.35" width="6.81" height="3.30" fill="#303006"/>
<rect x="447.50" y="116.60" width="6.81" height="3.30" fill="#1c1c02"/>
<rect x="447.50" y="129.60" width="6.81" height="3.30" fill="#303006"/>
<rect x="447.50" y="132.85" width="6.81" height="3.30" fill="#50500a"/>
<rect x="447.50" y="136.10" width="6.81" height="3.30" fill="#1c1c02"/>
<rect x="454.26" y="106.85" width="6.81" height="3.30" fill="#1c1c02"/>
<rect x="454.26" y="110.10" width="6.81" height="3.30" fill="#50500a"/>
<rect x="454.26" y="113.35" width="6.81" height="3.30" fill="#303006"/>
<rect x="454.26" y="116.60" width="6.81" height="3.30" fill="#1c1c02"/>
<rect x="454.26" y="123.10" width="6.81" height="3.30" fill="#1c1c02"/>
<rect x="454.26" y="126.35" width="6.81" height="3.30" fill="#303006"/>
<rect x="454.26" y="129.60" width="6.81" height="3.30" fill="#303006"/>
<rect x="454.26" y="132.85" width="6.81" height="3.30" fill="#303006"/>
<rect x="461.02" y="110.10" width="6.81" height="3.30" fill="#1c1c02"/>
<rect x="461.02" y="113.35" width="6.81" height="3.30" fill="#50500a"/>
<rect x="461.02" y="119.85" width="6.81" height="3.30" fill="#1c1c02"/>
<rect x="461.02" y="123.10" width="6.81" height="3.30" fill="#1c1c02"/>
<rect x="461.02" y="126.35" width="6.81" height="3.30" fill="#1c1c02"/>
<rect x="461.02" y="129.60" width="6.81" height="3.30" fill="#1c1c02"/>
<rect x="461.02" y="132.85" width="6.81" height="3.30" fill="#303006"/>
<rect x="461.02" y="139.35" width="6.81" height="3.30" fill="#1c1c02"/>
<rect x="461.02" y="142.60" width="6.81" height="3.30" fill="#1c1c02"/>
<rect x="461.02" y="145.85" width="6.81" height="3.30" fill="#303006"/>
<rect x="467.78" y="110.10" width="6.81" height="3.30" fill="#1c1c02"/>
<rect x="467.78" y="113.35" width="6.81" height="3.30" fill="#50500a"/>
<rect x="467.78" y="116.60" width="6.81" height="3.30" fill="#1c1c02"/>
<rect x="467.78" y="123.10" width="6.81" height="3.30" fill="#1c1c02"/>
<rect x="467.78" y="126.35" width="6.81" height="3.30" fill="#303006"/>
<rect x="467.78" y="129.60" width="6.81" height="3.30" fill="#303006"/>
<rect x="467.78" y="132.85" width="6.81" height="3.30" fill="#1c1c02"/>
<rect x="467.78" y="136.10" width="6.81" height="3.30" fill="#1c1c02"/>
<rect x="467.78" y="139.35" width="6.81" height="3.30" fill="#1c1c02"/>
<rect x="467.78" y="142.60" width="6.81" height="3.30" fill="#303006"/>
<rect x="467.78" y="145.85" width="6.81" height="3.30" fill="#303006"/>
<rect x="474.53" y="113.35" width="6.81" height="3.30" fill="#1c1c02"/>
<rect x="474.53" y="116.60" width="6.81" height="3.30" fill="#1c1c02"/>
<rect x="474.53" y="119.85" width="6.81" height="3.30" fill="#303006"/>
<rect x="474.53" y="123.10" width="6.81" height="3.30" fill="#1c1c02"/>
<rect x="474.53" y="126.35" width="6.81" height="3.30" fill="#303006"/>
<rect x="474.53" y="129.60" width="6.81" height="3.30" fill="#303006"/>
<rect x="474.53" y="132.85" width="6.81" height="3.30" fill="#1c1c02"/>
<rect x="474.53" y="142.60" width="6.81" height="3.30" fill="#1c1c02"/>
<rect x="474.53" y="145.85" width="6.81" height="3.30" fill="#1c1c02"/>
<rect x="481.29" y="113.35" width="6.81" height="3.30" fill="#303006"/>
<rect x="481.29" y="116.60" width="6.81" height="3.30" fill="#1c1c02"/>
<rect x="481.29" y="119.85" width="6.81" height="3.30" fill="#1c1c02"/>
<rect x="481.29" y="123.10" width="6.81" height="3.30" fill="#1c1c02"/>
<rect x="481.29" y="126.35" width="6.81" height="3.30" fill="#303006"/>
<rect x="481.29" y="129.60" width="6.81" height="3.30" fill="#303006"/>
<rect x="481.29" y="132.85" width="6.81" height="3.30" fill="#1c1c02"/>
<rect x="488.05" y="113.35" width="6.81" height="3.30" fill="#1c1c02"/>
<rect x="488.05" y="116.60" width="6.81" height="3.30" fill="#1c1c02"/>
<rect x="488.05" y="119.85" width="6.81" height="3.30" fill="#303006"/>
<rect x="488.05" y="123.10" width="6.81" height="3.30" fill="#1c1c02"/>
<rect x="488.05" y="126.35" width="6.81" height="3.30" fill="#303006"/>
<rect x="488.05" y="129.60" width="6.81" height="3.30" fill="#1c1c02"/>
<rect x="488.05" y="132.85" width="6.81" height="3.30" fill="#1c1c02"/>
<rect x="494.80" y="113.35" width="6.81" height="3.30" fill="#1c1c02"/>
<rect x="494.80" y="119.85" width="6.81" height="3.30" fill="#303006"/>
<rect x="494.80" y="123.10" width="6.81" height="3.30" fill="#1c1c02"/>
<rect x="494.80" y="126.35" width="6.81" height="3.30" fill="#1c1c02"/>
<rect x="494.80" y="129.60" width="6.81" height="3.30" fill="#1c1c02"/>
<rect x="501.56" y="106.85" width="6.81" height="3.30" fill="#737310"/>
</g>
<text x="411" y="158.9" font-size="7.4" fill="#222" text-anchor="start" font-weight="normal" textLength="45" lengthAdjust="spacingAndGlyphs" stroke="#222" stroke-width="0.15">signal intensity</text>
<rect x="461.8" y="154.7" width="46.2" height="4.2" fill="url(#gscale)"/>
<text x="462.5" y="167" font-size="6.5" fill="#222" text-anchor="middle" font-weight="normal" >0</text>
<text x="507" y="167" font-size="6.5" fill="#222" text-anchor="middle" font-weight="normal" >200</text>
<text x="8.6" y="177.9" font-size="12.3" fill="#000" text-anchor="start" font-weight="bold" textLength="7.9" lengthAdjust="spacingAndGlyphs" stroke="#000" stroke-width="0.35">B</text>
<path d="M40.5 184.6V380.0H239.2" stroke="#111" stroke-width="1.5" fill="none"/>
<text x="34.1" y="383.3" font-size="8.3" fill="#3a3a3a" text-anchor="end" font-weight="normal" >0</text>
<text x="34.1" y="346.08" font-size="8.3" fill="#3a3a3a" text-anchor="end" font-weight="normal" textLength="11.4" lengthAdjust="spacingAndGlyphs" >0.2</text>
<text x="34.1" y="308.86" font-size="8.3" fill="#3a3a3a" text-anchor="end" font-weight="normal" textLength="11.4" lengthAdjust="spacingAndGlyphs" >0.4</text>
<text x="34.1" y="271.64" font-size="8.3" fill="#3a3a3a" text-anchor="end" font-weight="normal" textLength="11.4" lengthAdjust="spacingAndGlyphs" >0.6</text>
<text x="34.1" y="234.42" font-size="8.3" fill="#3a3a3a" text-anchor="end" font-weight="normal" textLength="11.4" lengthAdjust="spacingAndGlyphs" >0.8</text>
<text x="34.1" y="197.2" font-size="8.3" fill="#3a3a3a" text-anchor="end" font-weight="normal" textLength="11.4" lengthAdjust="spacingAndGlyphs" >1.0</text>
<text x="40.5" y="393.5" font-size="8.4" fill="#3a3a3a" text-anchor="middle" font-weight="normal" >0</text>
<text x="60.1" y="393.5" font-size="8.4" fill="#3a3a3a" text-anchor="middle" font-weight="normal" textLength="9.2" lengthAdjust="spacingAndGlyphs" >20</text>
<text x="79.7" y="393.5" font-size="8.4" fill="#3a3a3a" text-anchor="middle" font-weight="normal" textLength="9.2" lengthAdjust="spacingAndGlyphs" >40</text>
<text x="99.3" y="393.5" font-size="8.4" fill="#3a3a3a" text-anchor="middle" font-weight="normal" textLength="9.2" lengthAdjust="spacingAndGlyphs" >60</text>
<text x="118.9" y="393.5" font-size="8.4" fill="#3a3a3a" text-anchor="middle" font-weight="normal" textLength="9.2" lengthAdjust="spacingAndGlyphs" >80</text>
<text x="138.5" y="393.5" font-size="8.4" fill="#3a3a3a" text-anchor="middle" font-weight="normal" textLength="13.799999999999999" lengthAdjust="spacingAndGlyphs" >100</text>
<text x="158.1" y="393.5" font-size="8.4" fill="#3a3a3a" text-anchor="middle" font-weight="normal" textLength="13.799999999999999" lengthAdjust="spacingAndGlyphs" >120</text>
<text x="177.7" y="393.5" font-size="8.4" fill="#3a3a3a" text-anchor="middle" font-weight="normal" textLength="13.799999999999999" lengthAdjust="spacingAndGlyphs" >140</text>
<text x="197.3" y="393.5" font-size="8.4" fill="#3a3a3a" text-anchor="middle" font-weight="normal" textLength="13.799999999999999" lengthAdjust="spacingAndGlyphs" >160</text>
<text x="216.9" y="393.5" font-size="8.4" fill="#3a3a3a" text-anchor="middle" font-weight="normal" textLength="13.799999999999999" lengthAdjust="spacingAndGlyphs" >180</text>
<text x="236.5" y="393.5" font-size="8.4" fill="#3a3a3a" text-anchor="middle" font-weight="normal" textLength="13.799999999999999" lengthAdjust="spacingAndGlyphs" >200</text>
<path d="M37.6 380.5H40.5M37.6 343.5H40.5M37.6 305.5H40.5M37.6 268.5H40.5M37.6 231.5H40.5M37.6 194.5H40.5M40.5 380.3V382.90000000000003M60.1 380.3V382.90000000000003M79.7 380.3V382.90000000000003M99.3 380.3V382.90000000000003M118.9 380.3V382.90000000000003M138.5 380.3V382.90000000000003M158.1 380.3V382.90000000000003M177.7 380.3V382.90000000000003M197.3 380.3V382.90000000000003M216.9 380.3V382.90000000000003M236.5 380.3V382.90000000000003" stroke="#111" stroke-width="1" fill="none"/>
<text transform="translate(15.0,289) rotate(-90)" font-size="8.8" fill="#222" stroke="#222" stroke-width="0.2" textLength="13.6" lengthAdjust="spacingAndGlyphs">TTFT</text>
<text x="114.6" y="408.2" font-size="10" fill="#2a2a2a" text-anchor="start" font-weight="normal" textLength="51.6" lengthAdjust="spacingAndGlyphs" stroke="#2a2a2a" stroke-width="0.15">Time (months)</text>
<path d="M40.5 194.5L40.5 224.5L43.5 224.5L43.5 231.5L50.5 231.5L50.5 236.5L60.5 236.5L60.5 243.5L62.5 243.5L62.5 249.5L66.5 249.5L66.5 256.5L70.5 256.5L70.5 262.5L72.5 262.5L72.5 268.5L74.5 268.5L74.5 276.5L79.5 276.5L79.5 282.5L87.5 282.5L87.5 290.5L95.5 290.5L95.5 297.5L96.5 297.5L96.5 304.5L104.5 304.5L104.5 310.5L110.5 310.5L110.5 317.5L113.5 317.5L113.5 324.5L124.5 324.5L124.5 345.5L125.5 345.5L125.5 352.5L135.5 352.5L135.5 358.5L139.5 358.5L139.5 366.5L142.5 366.5L142.5 372.5L163.5 372.5L163.5 380.5" stroke="#8c1a3c" stroke-width="1.3" fill="none"/>
<path d="M40.5 199.5L50.5 199.5L50.5 206.5L59.5 206.5L59.5 212.5L63.5 212.5L63.5 218.5L66.5 218.5L66.5 224.5L69.5 224.5L69.5 231.5L78.5 231.5L78.5 238.5L94.5 238.5L94.5 246.5L104.5 246.5L104.5 251.5L104.5 251.5L104.5 261.5L115.5 261.5L115.5 270.5L116.5 270.5L116.5 278.5L129.5 278.5L129.5 299.5L140.5 299.5L140.5 309.5L167.5 309.5L167.5 320.5L190.5 320.5L190.5 335.5L196.5 335.5L196.5 350.5L204.5 350.5L204.5 365.5L216.5 365.5L216.5 380.5" stroke="#2c4068" stroke-width="1.3" fill="none"/>
<circle cx="49.5" cy="199.9" r="1.7" fill="#2c4068"/>
<circle cx="58.7" cy="206.3" r="1.7" fill="#2c4068"/>
<circle cx="76.4" cy="231.8" r="1.7" fill="#2c4068"/>
<circle cx="91.8" cy="238.8" r="1.7" fill="#2c4068"/>
<circle cx="93.3" cy="238.8" r="1.7" fill="#2c4068"/>
<circle cx="106.3" cy="261.2" r="1.7" fill="#2c4068"/>
<circle cx="115.1" cy="261.2" r="1.7" fill="#2c4068"/>
<circle cx="124.3" cy="278.8" r="1.7" fill="#2c4068"/>
<circle cx="152.5" cy="309.6" r="1.7" fill="#2c4068"/>
<circle cx="189.8" cy="321" r="1.7" fill="#2c4068"/>
<circle cx="40.6" cy="194.2" r="1.7" fill="#8c1a3c"/>
<circle cx="58.7" cy="237" r="1.7" fill="#8c1a3c"/>
<circle cx="77.3" cy="276.5" r="1.7" fill="#8c1a3c"/>
<text x="168" y="283.7" font-size="8.5" fill="#333" text-anchor="middle" font-weight="normal" textLength="36.5" lengthAdjust="spacingAndGlyphs" >SHP2 SH2</text>
<text x="168" y="293.0" font-size="8.5" fill="#333" text-anchor="middle" font-weight="normal" textLength="15.2" lengthAdjust="spacingAndGlyphs" >high</text>
<text x="84.8" y="330.2" font-size="8.5" fill="#333" text-anchor="middle" font-weight="normal" textLength="36.4" lengthAdjust="spacingAndGlyphs" >SHP2 SH2</text>
<text x="84.8" y="339.3" font-size="8.5" fill="#333" text-anchor="middle" font-weight="normal" textLength="12.8" lengthAdjust="spacingAndGlyphs" >low</text>
<text x="54.7" y="365.6" font-size="8.5" fill="#333" text-anchor="start" font-weight="normal" textLength="33.6" lengthAdjust="spacingAndGlyphs" >p &lt; 0.001</text>
<text x="259.6" y="177.6" font-size="12.3" fill="#000" text-anchor="start" font-weight="bold" stroke="#000" stroke-width="0.35">C</text>
<path d="M285.5 183.8V379.5H485.5" stroke="#111" stroke-width="1.5" fill="none"/>
<text x="279.3" y="382.5" font-size="8.2" fill="#333" text-anchor="end" font-weight="normal" >0</text>
<text x="279.3" y="350.4" font-size="8.2" fill="#333" text-anchor="end" font-weight="normal" >1</text>
<text x="279.3" y="318.3" font-size="8.2" fill="#333" text-anchor="end" font-weight="normal" >2</text>
<text x="279.3" y="286.2" font-size="8.2" fill="#333" text-anchor="end" font-weight="normal" >3</text>
<text x="279.3" y="254.10000000000002" font-size="8.2" fill="#333" text-anchor="end" font-weight="normal" >4</text>
<text x="279.3" y="222.00000000000003" font-size="8.2" fill="#333" text-anchor="end" font-weight="normal" >5</text>
<text x="279.3" y="189.9" font-size="8.2" fill="#333" text-anchor="end" font-weight="normal" >6</text>
<path d="M282.2 379.5H285.5M282.2 347.5H285.5M282.2 315.5H285.5M282.2 283.5H285.5M282.2 251.5H285.5M282.2 219.5H285.5M282.2 186.5H285.5" stroke="#111" stroke-width="1" fill="none"/>
<text transform="translate(268.4,344.0) rotate(-90)" font-size="8.4" fill="#2a2a2a" textLength="124.6" lengthAdjust="spacingAndGlyphs">Normalized activity (arbitrary units)</text>
<circle cx="355.3" cy="223.7" r="3.5" fill="#2e4c8a" stroke="#1d2d56" stroke-width="0.7"/>
<circle cx="355.3" cy="238.8" r="3.5" fill="#2e4c8a" stroke="#1d2d56" stroke-width="0.7"/>
<circle cx="355.3" cy="324.5" r="3.5" fill="#2e4c8a" stroke="#1d2d56" stroke-width="0.7"/>
<circle cx="355.3" cy="333.0" r="3.5" fill="#2e4c8a" stroke="#1d2d56" stroke-width="0.7"/>
<path d="M334 282.5H376" stroke="#2b4677" stroke-width="1.5"/>
<circle cx="446.8" cy="228.3" r="3.5" fill="#b00a30" stroke="#820b25" stroke-width="0.7"/>
<circle cx="446.7" cy="319.6" r="3.5" fill="#b00a30" stroke="#820b25" stroke-width="0.7"/>
<circle cx="446.7" cy="330.4" r="3.5" fill="#b00a30" stroke="#820b25" stroke-width="0.7"/>
<circle cx="435.6" cy="335.2" r="3.5" fill="#b00a30" stroke="#820b25" stroke-width="0.7"/>
<circle cx="458.3" cy="334.2" r="3.5" fill="#b00a30" stroke="#820b25" stroke-width="0.7"/>
<circle cx="446.7" cy="340.4" r="3.5" fill="#b00a30" stroke="#820b25" stroke-width="0.7"/>
<circle cx="458.3" cy="346.7" r="3.5" fill="#b00a30" stroke="#820b25" stroke-width="0.7"/>
<circle cx="435.6" cy="350.4" r="3.5" fill="#b00a30" stroke="#820b25" stroke-width="0.7"/>
<circle cx="446.7" cy="350.6" r="3.5" fill="#b00a30" stroke="#820b25" stroke-width="0.7"/>
<circle cx="424.6" cy="356.7" r="3.5" fill="#b00a30" stroke="#820b25" stroke-width="0.7"/>
<circle cx="458.3" cy="356.3" r="3.5" fill="#b00a30" stroke="#820b25" stroke-width="0.7"/>
<circle cx="435.6" cy="363.8" r="3.5" fill="#b00a30" stroke="#820b25" stroke-width="0.7"/>
<circle cx="446.7" cy="360.6" r="3.5" fill="#b00a30" stroke="#820b25" stroke-width="0.7"/>
<circle cx="469.8" cy="361.2" r="3.5" fill="#b00a30" stroke="#820b25" stroke-width="0.7"/>
<circle cx="458.3" cy="365.8" r="3.5" fill="#b00a30" stroke="#820b25" stroke-width="0.7"/>
<circle cx="446.7" cy="374" r="3.5" fill="#b00a30" stroke="#820b25" stroke-width="0.7"/>
<path d="M415.8 350.4H477.9" stroke="#a50f2e" stroke-width="1.5"/>
<text x="433.6" y="200.9" font-size="8.3" fill="#222" text-anchor="start" font-weight="normal" textLength="30.6" lengthAdjust="spacingAndGlyphs" >p = 0.02</text>
<text x="326" y="392" font-size="8.2" fill="#333" text-anchor="start" font-weight="normal" textLength="58" lengthAdjust="spacingAndGlyphs" >SHP2 SH2 high</text>
<text x="420" y="391.6" font-size="8.2" fill="#333" text-anchor="start" font-weight="normal" textLength="53.7" lengthAdjust="spacingAndGlyphs" >SHP2 SH2 low</text>
<text x="8.6" y="422.9" font-size="12.3" fill="#000" text-anchor="start" font-weight="bold" stroke="#000" stroke-width="0.35">D</text>
<text x="108.6" y="435.5" font-size="10.8" fill="#222" text-anchor="start" font-weight="normal" textLength="57.6" lengthAdjust="spacingAndGlyphs" >CLL samples</text>
<path d="M7.5 440.6H267" stroke="#111" stroke-width="1.1"/>
<text transform="translate(17.5,457.2) rotate(-90)" font-size="8.3" fill="#222" textLength="8.9" lengthAdjust="spacingAndGlyphs">54</text>
<text transform="translate(31.5,457.2) rotate(-90)" font-size="8.3" fill="#222" textLength="13.4" lengthAdjust="spacingAndGlyphs">372</text>
<text transform="translate(44.5,457.2) rotate(-90)" font-size="8.3" fill="#222" textLength="13.4" lengthAdjust="spacingAndGlyphs">150</text>
<text transform="translate(57.0,457.2) rotate(-90)" font-size="8.3" fill="#222" textLength="13.4" lengthAdjust="spacingAndGlyphs">307</text>
<text transform="translate(73.5,457.2) rotate(-90)" font-size="8.3" fill="#9b2a4a" textLength="13.4" lengthAdjust="spacingAndGlyphs">356</text>
<text transform="translate(86.0,457.2) rotate(-90)" font-size="8.3" fill="#9b2a4a" textLength="13.4" lengthAdjust="spacingAndGlyphs">382</text>
<text transform="translate(98.5,457.2) rotate(-90)" font-size="8.3" fill="#9b2a4a" textLength="13.4" lengthAdjust="spacingAndGlyphs">381</text>
<text transform="translate(113.6,457.2) rotate(-90)" font-size="8.3" fill="#9b2a4a" textLength="8.9" lengthAdjust="spacingAndGlyphs">59</text>
<text transform="translate(127.3,457.2) rotate(-90)" font-size="8.3" fill="#9b2a4a" textLength="8.9" lengthAdjust="spacingAndGlyphs">66</text>
<text transform="translate(138.0,457.2) rotate(-90)" font-size="8.3" fill="#9b2a4a" textLength="8.9" lengthAdjust="spacingAndGlyphs">28</text>
<text transform="translate(151.0,457.2) rotate(-90)" font-size="8.3" fill="#9b2a4a" textLength="8.9" lengthAdjust="spacingAndGlyphs">63</text>
<text transform="translate(164.0,457.2) rotate(-90)" font-size="8.3" fill="#9b2a4a" textLength="8.9" lengthAdjust="spacingAndGlyphs">17</text>
<text transform="translate(176.0,457.2) rotate(-90)" font-size="8.3" fill="#9b2a4a" textLength="8.9" lengthAdjust="spacingAndGlyphs">37</text>
<text transform="translate(190.0,457.2) rotate(-90)" font-size="8.3" fill="#9b2a4a" textLength="8.9" lengthAdjust="spacingAndGlyphs">64</text>
<text transform="translate(203.0,457.2) rotate(-90)" font-size="8.3" fill="#9b2a4a" textLength="8.9" lengthAdjust="spacingAndGlyphs">58</text>
<text transform="translate(214.2,457.2) rotate(-90)" font-size="8.3" fill="#9b2a4a" textLength="13.4" lengthAdjust="spacingAndGlyphs">359</text>
<text transform="translate(226.5,457.2) rotate(-90)" font-size="8.3" fill="#9b2a4a" textLength="13.4" lengthAdjust="spacingAndGlyphs">357</text>
<text transform="translate(238.6,457.2) rotate(-90)" font-size="8.3" fill="#9b2a4a" textLength="13.4" lengthAdjust="spacingAndGlyphs">364</text>
<text transform="translate(251.0,457.2) rotate(-90)" font-size="8.3" fill="#9b2a4a" textLength="13.4" lengthAdjust="spacingAndGlyphs">366</text>
<text transform="translate(263.0,457.2) rotate(-90)" font-size="8.3" fill="#9b2a4a" textLength="13.4" lengthAdjust="spacingAndGlyphs">354</text>
<rect x="7.2" y="460.8" width="260.6" height="35.8" fill="#0f0f0f"/>
<g filter="url(#bl2)">
<rect x="106" y="479" width="161" height="16" fill="#3c3c3c"/>
<rect x="106" y="484" width="161" height="10.5" fill="#8a8a8a"/>
<rect x="9.5" y="462" width="10" height="33" fill="#151515"/>
<rect x="23.5" y="462" width="10" height="33" fill="#151515"/>
<rect x="36.5" y="462" width="10" height="33" fill="#151515"/>
<rect x="49" y="462" width="10" height="33" fill="#151515"/>
<rect x="65.5" y="462" width="10" height="33" fill="#151515"/>
<rect x="78" y="462" width="10" height="33" fill="#151515"/>
<rect x="90.5" y="462" width="10" height="33" fill="#151515"/>
<rect x="105.6" y="462" width="10" height="33" fill="#151515"/>
<rect x="119.3" y="462" width="10" height="33" fill="#151515"/>
<rect x="130" y="462" width="10" height="33" fill="#151515"/>
<rect x="143" y="462" width="10" height="33" fill="#151515"/>
<rect x="156" y="462" width="10" height="33" fill="#151515"/>
<rect x="168" y="462" width="10" height="33" fill="#151515"/>
<rect x="182" y="462" width="10" height="33" fill="#151515"/>
<rect x="195" y="462" width="10" height="33" fill="#151515"/>
<rect x="206.2" y="462" width="10" height="33" fill="#151515"/>
<rect x="218.5" y="462" width="10" height="33" fill="#151515"/>
<rect x="230.6" y="462" width="10" height="33" fill="#151515"/>
<rect x="243" y="462" width="10" height="33" fill="#151515"/>
<rect x="255" y="462" width="10" height="33" fill="#151515"/>
<ellipse cx="14.5" cy="467.5" rx="3.5" ry="2.2" fill="rgb(33,33,33)"/>
<rect x="10.2" y="473.9" width="8.5" height="4.2" rx="2.5" fill="rgb(179,179,179)"/>
<rect x="8.7" y="484.4" width="11.6" height="10" rx="3.5" fill="#c9c9c9"/>
<ellipse cx="14.5" cy="489.6" rx="2.6" ry="1.8" fill="#b4b4b4"/>
<ellipse cx="28.5" cy="467.5" rx="3.5" ry="2.2" fill="rgb(33,33,33)"/>
<rect x="23.0" y="472.9" width="11.0" height="6.2" rx="2.5" fill="rgb(215,215,215)"/>
<rect x="22.7" y="484.4" width="11.6" height="10" rx="3.5" fill="#c9c9c9"/>
<ellipse cx="28.5" cy="489.6" rx="2.6" ry="1.8" fill="#b4b4b4"/>
<ellipse cx="41.5" cy="467.5" rx="3.5" ry="2.2" fill="rgb(54,54,54)"/>
<rect x="36.8" y="473.5" width="9.5" height="4.9" rx="2.5" fill="rgb(192,192,192)"/>
<rect x="35.7" y="484.4" width="11.6" height="10" rx="3.5" fill="#c9c9c9"/>
<ellipse cx="41.5" cy="489.6" rx="2.6" ry="1.8" fill="#b4b4b4"/>
<ellipse cx="54" cy="467.5" rx="3.5" ry="2.2" fill="rgb(33,33,33)"/>
<rect x="48.5" y="472.9" width="11.0" height="6.2" rx="2.5" fill="rgb(215,215,215)"/>
<rect x="48.2" y="484.4" width="11.6" height="10" rx="3.5" fill="#c9c9c9"/>
<ellipse cx="54" cy="489.6" rx="2.6" ry="1.8" fill="#b4b4b4"/>
<ellipse cx="70.5" cy="467.5" rx="3.5" ry="2.2" fill="rgb(33,33,33)"/>
<rect x="66.2" y="473.9" width="8.5" height="4.2" rx="2.5" fill="rgb(179,179,179)"/>
<rect x="64.7" y="484.4" width="11.6" height="10" rx="3.5" fill="#c9c9c9"/>
<ellipse cx="70.5" cy="489.6" rx="2.6" ry="1.8" fill="#b4b4b4"/>
<ellipse cx="83" cy="467.5" rx="3.5" ry="2.2" fill="rgb(33,33,33)"/>
<rect x="77.8" y="473.3" width="10.5" height="5.5" rx="2.5" fill="rgb(202,202,202)"/>
<rect x="77.2" y="484.4" width="11.6" height="10" rx="3.5" fill="#c9c9c9"/>
<ellipse cx="83" cy="489.6" rx="2.6" ry="1.8" fill="#b4b4b4"/>
<ellipse cx="95.5" cy="467.5" rx="3.5" ry="2.2" fill="rgb(33,33,33)"/>
<rect x="91.2" y="473.9" width="8.5" height="4.2" rx="2.5" fill="rgb(179,179,179)"/>
<rect x="89.7" y="484.4" width="11.6" height="10" rx="3.5" fill="#c9c9c9"/>
<ellipse cx="95.5" cy="489.6" rx="2.6" ry="1.8" fill="#b4b4b4"/>
<ellipse cx="110.6" cy="467.5" rx="3.5" ry="2.2" fill="rgb(54,54,54)"/>
<rect x="105.1" y="473.0" width="11.0" height="6.0" rx="2.5" fill="rgb(211,211,211)"/>
<rect x="104.4" y="483.6" width="12.4" height="10.8" rx="3.5" fill="#c9c9c9"/>
<ellipse cx="110.6" cy="489.6" rx="2.6" ry="1.8" fill="#b4b4b4"/>
<ellipse cx="124.3" cy="467.5" rx="3.5" ry="2.2" fill="rgb(54,54,54)"/>
<rect x="118.8" y="473.1" width="11.0" height="5.8" rx="2.5" fill="rgb(208,208,208)"/>
<rect x="118.1" y="483.6" width="12.4" height="10.8" rx="3.5" fill="#c9c9c9"/>
<ellipse cx="124.3" cy="489.6" rx="2.6" ry="1.8" fill="#b4b4b4"/>
<ellipse cx="135" cy="467.5" rx="3.5" ry="2.2" fill="rgb(60,60,60)"/>
<rect x="129.5" y="473.1" width="11.0" height="5.8" rx="2.5" fill="rgb(208,208,208)"/>
<rect x="128.8" y="483.6" width="12.4" height="10.8" rx="3.5" fill="#c9c9c9"/>
<ellipse cx="135" cy="489.6" rx="2.6" ry="1.8" fill="#b4b4b4"/>
<ellipse cx="148" cy="467.5" rx="3.5" ry="2.2" fill="rgb(39,39,39)"/>
<rect x="142.2" y="472.9" width="11.5" height="6.2" rx="2.5" fill="rgb(215,215,215)"/>
<rect x="141.8" y="483.6" width="12.4" height="10.8" rx="3.5" fill="#c9c9c9"/>
<ellipse cx="148" cy="489.6" rx="2.6" ry="1.8" fill="#b4b4b4"/>
<ellipse cx="161" cy="467.5" rx="3.5" ry="2.2" fill="rgb(39,39,39)"/>
<rect x="155.5" y="473.1" width="11.0" height="5.8" rx="2.5" fill="rgb(208,208,208)"/>
<rect x="154.8" y="483.6" width="12.4" height="10.8" rx="3.5" fill="#c9c9c9"/>
<ellipse cx="161" cy="489.6" rx="2.6" ry="1.8" fill="#b4b4b4"/>
<ellipse cx="173" cy="467.5" rx="3.5" ry="2.2" fill="rgb(54,54,54)"/>
<rect x="167.5" y="473.0" width="11.0" height="6.0" rx="2.5" fill="rgb(211,211,211)"/>
<rect x="166.8" y="483.6" width="12.4" height="10.8" rx="3.5" fill="#c9c9c9"/>
<ellipse cx="173" cy="489.6" rx="2.6" ry="1.8" fill="#b4b4b4"/>
<ellipse cx="187" cy="467.5" rx="3.5" ry="2.2" fill="rgb(33,33,33)"/>
<rect x="183.2" y="473.8" width="7.5" height="4.4" rx="2.5" fill="rgb(182,182,182)"/>
<rect x="180.8" y="483.6" width="12.4" height="10.8" rx="3.5" fill="#c9c9c9"/>
<ellipse cx="187" cy="489.6" rx="2.6" ry="1.8" fill="#b4b4b4"/>
<ellipse cx="200" cy="467.5" rx="3.5" ry="2.2" fill="rgb(48,48,48)"/>
<rect x="194.8" y="473.2" width="10.5" height="5.7" rx="2.5" fill="rgb(205,205,205)"/>
<rect x="193.8" y="483.6" width="12.4" height="10.8" rx="3.5" fill="#c9c9c9"/>
<ellipse cx="200" cy="489.6" rx="2.6" ry="1.8" fill="#b4b4b4"/>
<ellipse cx="211.2" cy="467.5" rx="3.5" ry="2.2" fill="rgb(33,33,33)"/>
<rect x="205.7" y="473.0" width="11.0" height="6.0" rx="2.5" fill="rgb(211,211,211)"/>
<rect x="205.0" y="483.6" width="12.4" height="10.8" rx="3.5" fill="#c9c9c9"/>
<ellipse cx="211.2" cy="489.6" rx="2.6" ry="1.8" fill="#b4b4b4"/>
<ellipse cx="223.5" cy="467.5" rx="3.5" ry="2.2" fill="rgb(33,33,33)"/>
<rect x="219.2" y="473.7" width="8.5" height="4.6" rx="2.5" fill="rgb(185,185,185)"/>
<rect x="217.3" y="483.6" width="12.4" height="10.8" rx="3.5" fill="#c9c9c9"/>
<ellipse cx="223.5" cy="489.6" rx="2.6" ry="1.8" fill="#b4b4b4"/>
<ellipse cx="235.6" cy="467.5" rx="3.5" ry="2.2" fill="rgb(39,39,39)"/>
<rect x="230.1" y="473.0" width="11.0" height="6.0" rx="2.5" fill="rgb(211,211,211)"/>
<rect x="229.4" y="483.6" width="12.4" height="10.8" rx="3.5" fill="#c9c9c9"/>
<ellipse cx="235.6" cy="489.6" rx="2.6" ry="1.8" fill="#b4b4b4"/>
<ellipse cx="248" cy="467.5" rx="3.5" ry="2.2" fill="rgb(54,54,54)"/>
<rect x="242.5" y="473.0" width="11.0" height="6.0" rx="2.5" fill="rgb(211,211,211)"/>
<rect x="241.8" y="483.6" width="12.4" height="10.8" rx="3.5" fill="#c9c9c9"/>
<ellipse cx="248" cy="489.6" rx="2.6" ry="1.8" fill="#b4b4b4"/>
<ellipse cx="260" cy="467.5" rx="3.5" ry="2.2" fill="rgb(48,48,48)"/>
<rect x="255.0" y="473.2" width="10.0" height="5.7" rx="2.5" fill="rgb(205,205,205)"/>
<rect x="253.8" y="483.6" width="12.4" height="10.8" rx="3.5" fill="#c9c9c9"/>
<ellipse cx="260" cy="489.6" rx="2.6" ry="1.8" fill="#b4b4b4"/>
</g>
<path d="M20.5 460.8V496.6M62.7 460.8V496.6M104.4 460.8V496.6" stroke="#6a6a6a" stroke-width="0.7"/>
<path d="M273.3 477.5L284.7 472.8L281.0 477.5L284.7 482.2Z" fill="#111"/>
<path d="M273.3 491.2L284.7 486.5L281.0 491.2L284.7 495.9Z" fill="#111"/>
<text x="288.2" y="481.4" font-size="10" fill="#222" text-anchor="start" font-weight="normal" textLength="24.6" lengthAdjust="spacingAndGlyphs" >SHP2</text>
<text x="288.2" y="495.2" font-size="10" fill="#222" text-anchor="start" font-weight="normal" textLength="15.8" lengthAdjust="spacingAndGlyphs" >IgH</text>
<text x="7.5" y="510.2" font-size="10.3" fill="#222" text-anchor="start" font-weight="normal" textLength="38.7" lengthAdjust="spacingAndGlyphs" >IP: SHP2</text>
<text x="7.5" y="522.2" font-size="10.3" fill="#222" text-anchor="start" font-weight="normal" textLength="46.2" lengthAdjust="spacingAndGlyphs" >WB: SHP2</text>
</svg></body></html>
